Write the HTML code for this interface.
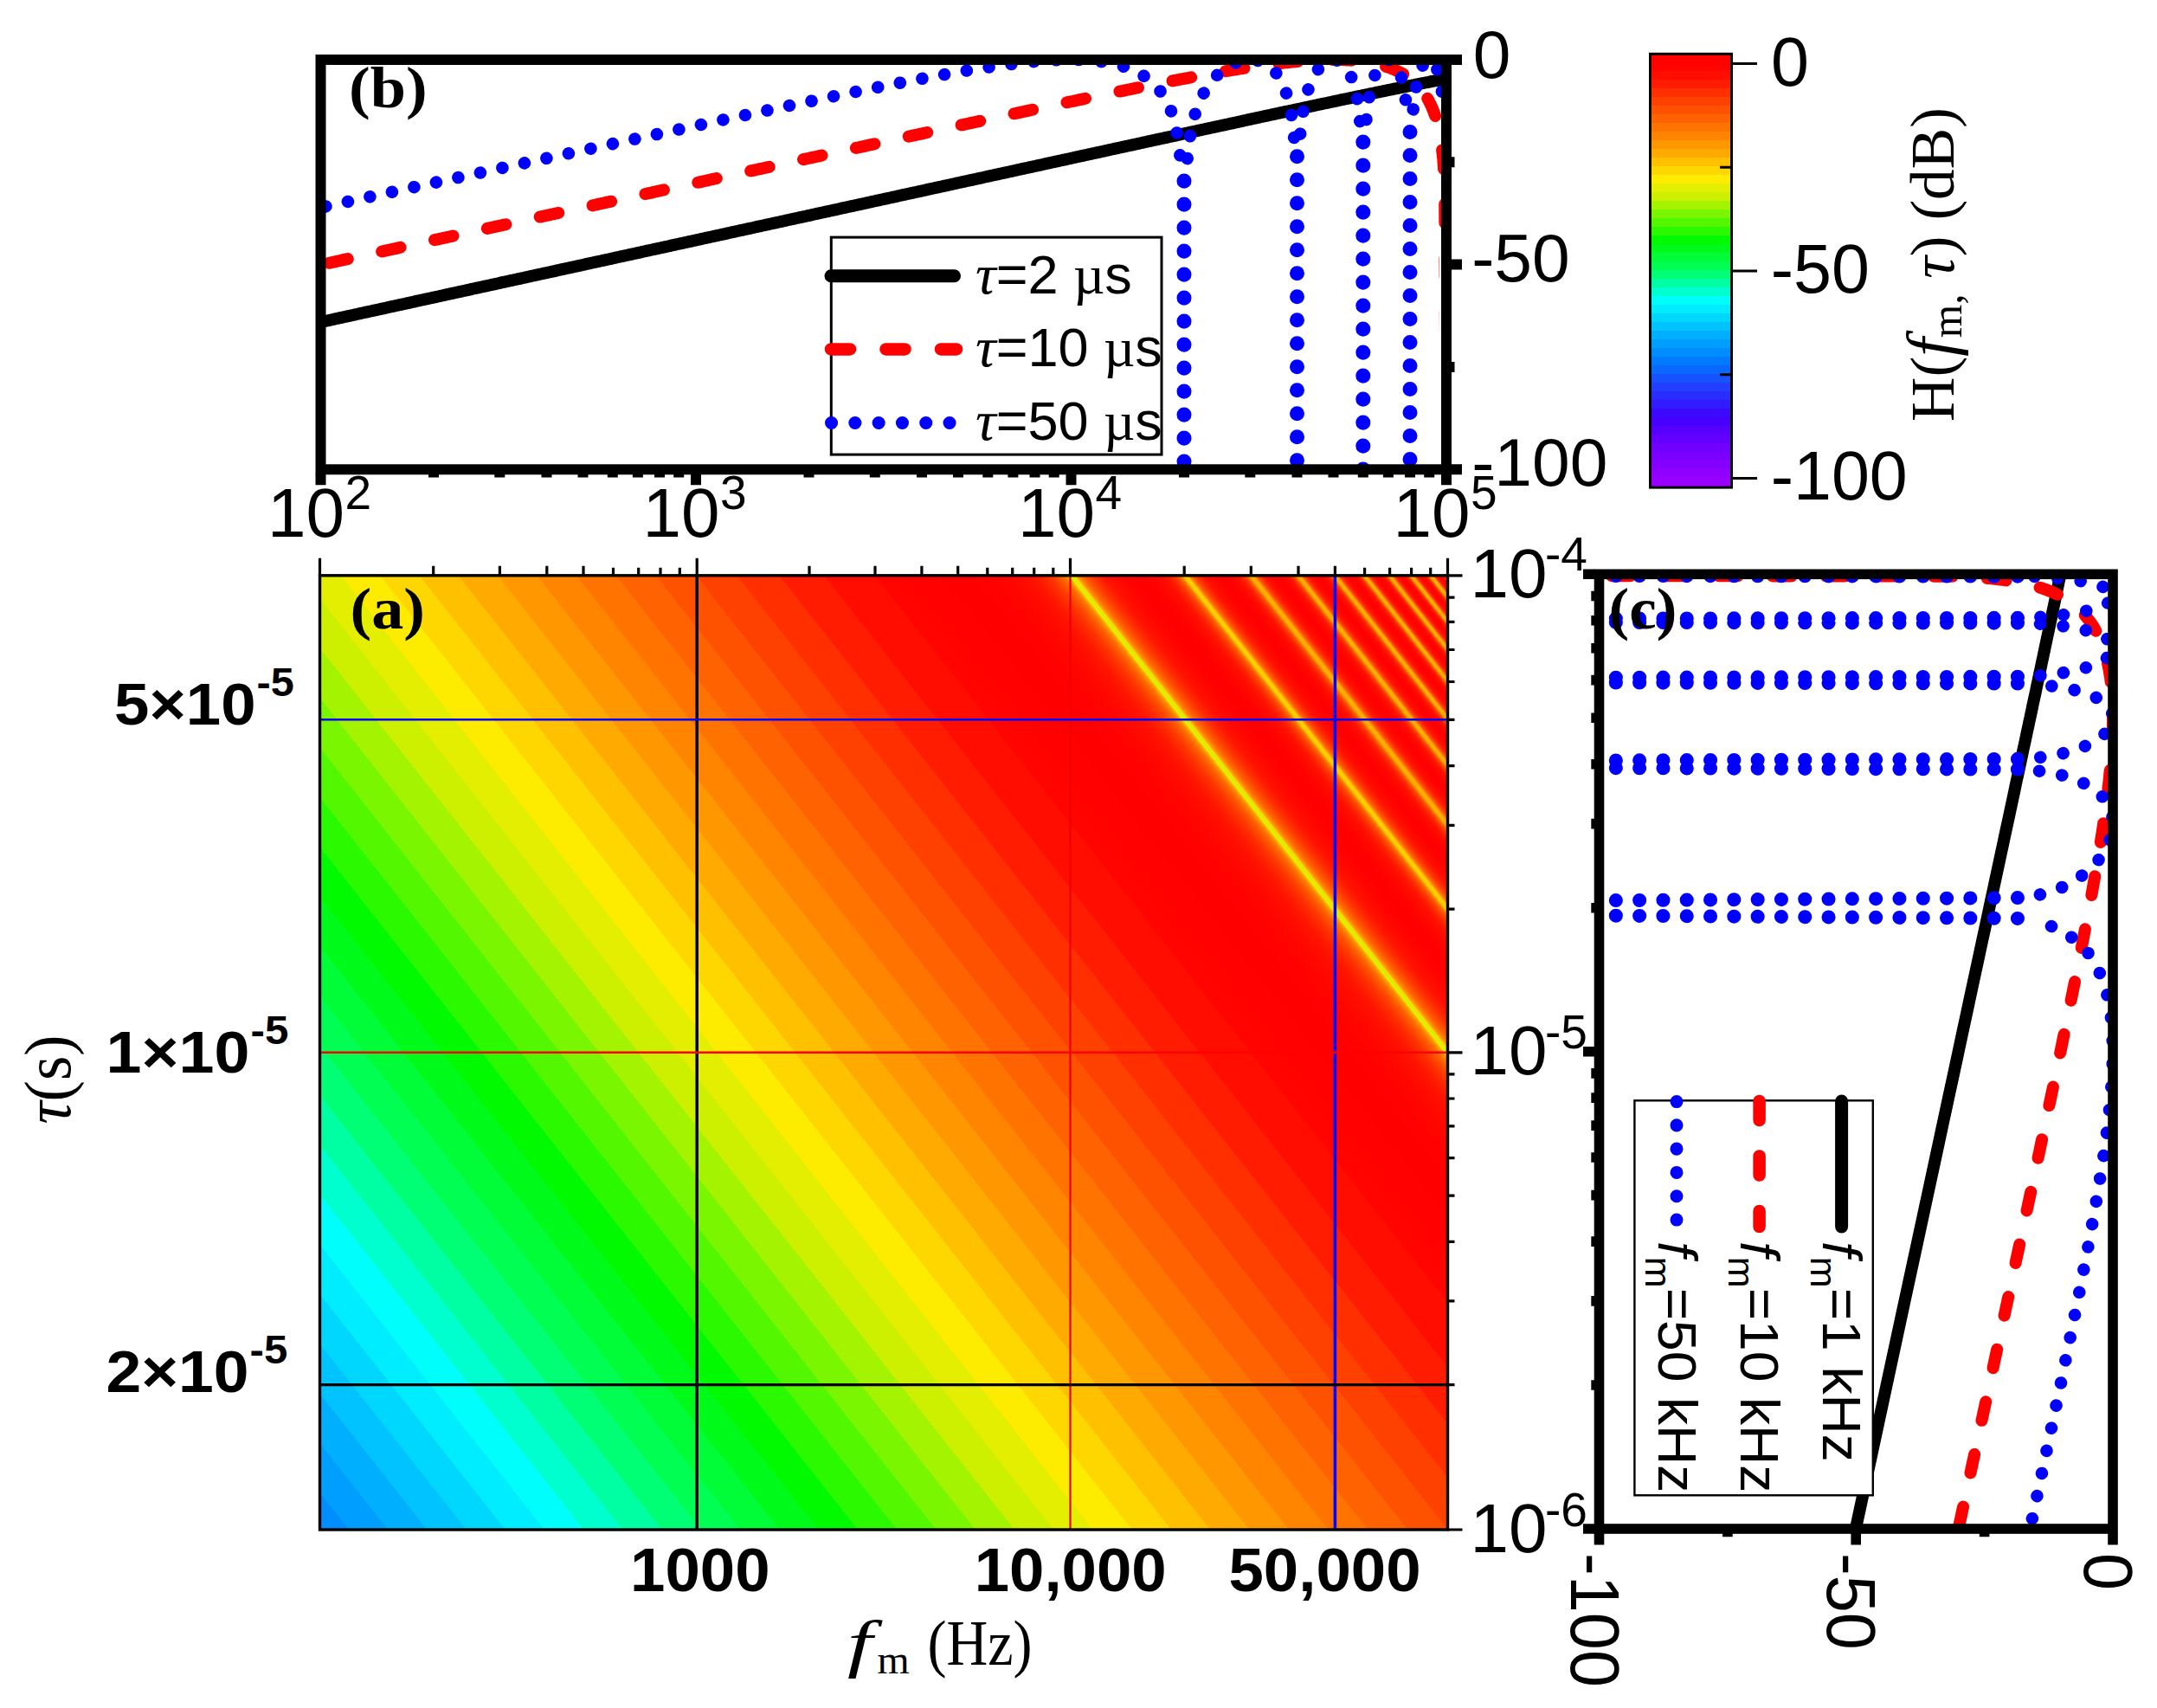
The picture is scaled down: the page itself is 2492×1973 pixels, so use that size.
<!DOCTYPE html>
<html><head><meta charset="utf-8"><title>figure</title>
<style>html,body{margin:0;padding:0;background:#fff}svg{display:block}</style></head>
<body>
<svg width="2492" height="1973" viewBox="0 0 2492 1973">
<rect width="2492" height="1973" fill="#fff"/>
<defs><linearGradient id="hm" gradientUnits="userSpaceOnUse" x1="369.50" y1="1767.00" x2="1709.10" y2="711.24"><stop offset="0.00000" stop-color="#008dff"/><stop offset="0.01537" stop-color="#008dff"/><stop offset="0.01537" stop-color="#009fff"/><stop offset="0.03620" stop-color="#009fff"/><stop offset="0.03620" stop-color="#00b0ff"/><stop offset="0.05704" stop-color="#00b0ff"/><stop offset="0.05704" stop-color="#00c3ff"/><stop offset="0.07787" stop-color="#00c3ff"/><stop offset="0.07787" stop-color="#00d7ff"/><stop offset="0.09870" stop-color="#00d7ff"/><stop offset="0.09870" stop-color="#00ecff"/><stop offset="0.11954" stop-color="#00ecff"/><stop offset="0.11954" stop-color="#00fffc"/><stop offset="0.14037" stop-color="#00fffc"/><stop offset="0.14037" stop-color="#00ffcf"/><stop offset="0.16120" stop-color="#00ffcf"/><stop offset="0.16120" stop-color="#00ffa2"/><stop offset="0.18204" stop-color="#00ffa2"/><stop offset="0.18204" stop-color="#00ff75"/><stop offset="0.20287" stop-color="#00ff75"/><stop offset="0.20287" stop-color="#00fe53"/><stop offset="0.22370" stop-color="#00fe53"/><stop offset="0.22370" stop-color="#00fd37"/><stop offset="0.24454" stop-color="#00fd37"/><stop offset="0.24454" stop-color="#00fb1b"/><stop offset="0.26537" stop-color="#00fb1b"/><stop offset="0.26537" stop-color="#02fa00"/><stop offset="0.28620" stop-color="#02fa00"/><stop offset="0.28620" stop-color="#2af900"/><stop offset="0.30704" stop-color="#2af900"/><stop offset="0.30704" stop-color="#52f700"/><stop offset="0.32787" stop-color="#52f700"/><stop offset="0.32787" stop-color="#79f600"/><stop offset="0.34871" stop-color="#79f600"/><stop offset="0.34871" stop-color="#a4f300"/><stop offset="0.36954" stop-color="#a4f300"/><stop offset="0.36954" stop-color="#ccf000"/><stop offset="0.39038" stop-color="#ccf000"/><stop offset="0.39038" stop-color="#e4ee00"/><stop offset="0.41122" stop-color="#e4ee00"/><stop offset="0.41122" stop-color="#fdec00"/><stop offset="0.43207" stop-color="#fdec00"/><stop offset="0.43207" stop-color="#ffd700"/><stop offset="0.45292" stop-color="#ffd700"/><stop offset="0.45292" stop-color="#ffc000"/><stop offset="0.47378" stop-color="#ffc000"/><stop offset="0.47378" stop-color="#ffaa00"/><stop offset="0.49466" stop-color="#ffaa00"/><stop offset="0.49466" stop-color="#ff9700"/><stop offset="0.51557" stop-color="#ff9700"/><stop offset="0.51557" stop-color="#ff8500"/><stop offset="0.53653" stop-color="#ff8500"/><stop offset="0.53653" stop-color="#ff7300"/><stop offset="0.55758" stop-color="#ff7300"/><stop offset="0.55758" stop-color="#ff6200"/><stop offset="0.57875" stop-color="#ff6200"/><stop offset="0.57875" stop-color="#ff5200"/><stop offset="0.60014" stop-color="#ff5200"/><stop offset="0.60014" stop-color="#ff4100"/><stop offset="0.62192" stop-color="#ff4100"/><stop offset="0.62192" stop-color="#ff2f00"/><stop offset="0.64438" stop-color="#ff2f00"/><stop offset="0.64438" stop-color="#ff1c00"/><stop offset="0.66818" stop-color="#ff1c00"/><stop offset="0.66818" stop-color="#ff0e00"/><stop offset="0.69524" stop-color="#ff0e00"/><stop offset="0.69524" stop-color="#ff0400"/><stop offset="0.72041" stop-color="#ff0200"/><stop offset="0.72393" stop-color="#ff0200"/><stop offset="0.72452" stop-color="#ff0100"/><stop offset="0.73097" stop-color="#ff0100"/><stop offset="0.73155" stop-color="#ff0000"/><stop offset="0.74738" stop-color="#ff0000"/><stop offset="0.74797" stop-color="#ff0100"/><stop offset="0.75266" stop-color="#ff0100"/><stop offset="0.75324" stop-color="#ff0200"/><stop offset="0.75618" stop-color="#ff0200"/><stop offset="0.75676" stop-color="#ff0300"/><stop offset="0.75911" stop-color="#ff0300"/><stop offset="0.75969" stop-color="#ff0400"/><stop offset="0.76145" stop-color="#ff0400"/><stop offset="0.76204" stop-color="#ff0500"/><stop offset="0.76321" stop-color="#ff0500"/><stop offset="0.76380" stop-color="#ff0600"/><stop offset="0.76497" stop-color="#ff0600"/><stop offset="0.76556" stop-color="#ff0700"/><stop offset="0.76614" stop-color="#ff0700"/><stop offset="0.76673" stop-color="#ff0800"/><stop offset="0.76790" stop-color="#ff0800"/><stop offset="0.76849" stop-color="#ff0900"/><stop offset="0.76907" stop-color="#ff0900"/><stop offset="0.76966" stop-color="#ff0a00"/><stop offset="0.77025" stop-color="#ff0a00"/><stop offset="0.77083" stop-color="#ff0b00"/><stop offset="0.77142" stop-color="#ff0b00"/><stop offset="0.77201" stop-color="#ff0c00"/><stop offset="0.77259" stop-color="#ff0c00"/><stop offset="0.77318" stop-color="#ff0d00"/><stop offset="0.77376" stop-color="#ff0e00"/><stop offset="0.77435" stop-color="#ff0e00"/><stop offset="0.77494" stop-color="#ff0f00"/><stop offset="0.77552" stop-color="#ff1000"/><stop offset="0.77611" stop-color="#ff1000"/><stop offset="0.77670" stop-color="#ff1100"/><stop offset="0.77728" stop-color="#ff1200"/><stop offset="0.77787" stop-color="#ff1300"/><stop offset="0.77846" stop-color="#ff1400"/><stop offset="0.77904" stop-color="#ff1500"/><stop offset="0.77963" stop-color="#ff1600"/><stop offset="0.78021" stop-color="#ff1800"/><stop offset="0.78080" stop-color="#ff1a00"/><stop offset="0.78139" stop-color="#ff1c00"/><stop offset="0.78197" stop-color="#ff1e00"/><stop offset="0.78256" stop-color="#ff2000"/><stop offset="0.78315" stop-color="#ff2200"/><stop offset="0.78373" stop-color="#ff2400"/><stop offset="0.78432" stop-color="#ff2600"/><stop offset="0.78490" stop-color="#ff2900"/><stop offset="0.78549" stop-color="#ff2b00"/><stop offset="0.78608" stop-color="#ff2e00"/><stop offset="0.78666" stop-color="#ff3000"/><stop offset="0.78725" stop-color="#ff3300"/><stop offset="0.78784" stop-color="#ff3600"/><stop offset="0.78842" stop-color="#ff3a00"/><stop offset="0.78901" stop-color="#ff3d00"/><stop offset="0.78959" stop-color="#ff4100"/><stop offset="0.79018" stop-color="#ff4500"/><stop offset="0.79077" stop-color="#ff4900"/><stop offset="0.79135" stop-color="#ff4d00"/><stop offset="0.79194" stop-color="#ff5200"/><stop offset="0.79253" stop-color="#ff5700"/><stop offset="0.79311" stop-color="#ff5c00"/><stop offset="0.79370" stop-color="#ff6200"/><stop offset="0.79429" stop-color="#ff6800"/><stop offset="0.79487" stop-color="#ff6f00"/><stop offset="0.79546" stop-color="#ff7800"/><stop offset="0.79604" stop-color="#ff8200"/><stop offset="0.79663" stop-color="#ff8e00"/><stop offset="0.79722" stop-color="#ff9c00"/><stop offset="0.79780" stop-color="#ffaf00"/><stop offset="0.79839" stop-color="#ffcc00"/><stop offset="0.79898" stop-color="#f4ed00"/><stop offset="0.79956" stop-color="#d8ef00"/><stop offset="0.80073" stop-color="#d8ef00"/><stop offset="0.80132" stop-color="#ffdd00"/><stop offset="0.80191" stop-color="#ffba00"/><stop offset="0.80249" stop-color="#ffa200"/><stop offset="0.80308" stop-color="#ff9200"/><stop offset="0.80367" stop-color="#ff8500"/><stop offset="0.80425" stop-color="#ff7900"/><stop offset="0.80484" stop-color="#ff7000"/><stop offset="0.80542" stop-color="#ff6700"/><stop offset="0.80601" stop-color="#ff6000"/><stop offset="0.80660" stop-color="#ff5a00"/><stop offset="0.80718" stop-color="#ff5400"/><stop offset="0.80777" stop-color="#ff4e00"/><stop offset="0.80836" stop-color="#ff4900"/><stop offset="0.80894" stop-color="#ff4400"/><stop offset="0.80953" stop-color="#ff3f00"/><stop offset="0.81012" stop-color="#ff3a00"/><stop offset="0.81070" stop-color="#ff3600"/><stop offset="0.81129" stop-color="#ff3200"/><stop offset="0.81187" stop-color="#ff2e00"/><stop offset="0.81246" stop-color="#ff2b00"/><stop offset="0.81305" stop-color="#ff2700"/><stop offset="0.81363" stop-color="#ff2400"/><stop offset="0.81422" stop-color="#ff2100"/><stop offset="0.81481" stop-color="#ff1e00"/><stop offset="0.81539" stop-color="#ff1b00"/><stop offset="0.81598" stop-color="#ff1900"/><stop offset="0.81656" stop-color="#ff1600"/><stop offset="0.81715" stop-color="#ff1400"/><stop offset="0.81774" stop-color="#ff1200"/><stop offset="0.81832" stop-color="#ff1100"/><stop offset="0.81891" stop-color="#ff1000"/><stop offset="0.81950" stop-color="#ff0f00"/><stop offset="0.82008" stop-color="#ff0e00"/><stop offset="0.82067" stop-color="#ff0d00"/><stop offset="0.82125" stop-color="#ff0c00"/><stop offset="0.82184" stop-color="#ff0b00"/><stop offset="0.82243" stop-color="#ff0a00"/><stop offset="0.82301" stop-color="#ff0900"/><stop offset="0.82360" stop-color="#ff0800"/><stop offset="0.82419" stop-color="#ff0700"/><stop offset="0.82477" stop-color="#ff0700"/><stop offset="0.82536" stop-color="#ff0600"/><stop offset="0.82595" stop-color="#ff0500"/><stop offset="0.82653" stop-color="#ff0500"/><stop offset="0.82712" stop-color="#ff0400"/><stop offset="0.82770" stop-color="#ff0300"/><stop offset="0.82829" stop-color="#ff0300"/><stop offset="0.82888" stop-color="#ff0200"/><stop offset="0.83005" stop-color="#ff0200"/><stop offset="0.83064" stop-color="#ff0100"/><stop offset="0.83181" stop-color="#ff0100"/><stop offset="0.83239" stop-color="#ff0000"/><stop offset="0.83708" stop-color="#ff0000"/><stop offset="0.83767" stop-color="#ff0100"/><stop offset="0.83943" stop-color="#ff0100"/><stop offset="0.84002" stop-color="#ff0200"/><stop offset="0.84060" stop-color="#ff0200"/><stop offset="0.84119" stop-color="#ff0300"/><stop offset="0.84178" stop-color="#ff0300"/><stop offset="0.84236" stop-color="#ff0400"/><stop offset="0.84295" stop-color="#ff0500"/><stop offset="0.84353" stop-color="#ff0600"/><stop offset="0.84412" stop-color="#ff0700"/><stop offset="0.84471" stop-color="#ff0800"/><stop offset="0.84529" stop-color="#ff0900"/><stop offset="0.84588" stop-color="#ff0a00"/><stop offset="0.84647" stop-color="#ff0b00"/><stop offset="0.84705" stop-color="#ff0c00"/><stop offset="0.84764" stop-color="#ff0e00"/><stop offset="0.84822" stop-color="#ff0f00"/><stop offset="0.84881" stop-color="#ff1100"/><stop offset="0.84940" stop-color="#ff1300"/><stop offset="0.84998" stop-color="#ff1500"/><stop offset="0.85057" stop-color="#ff1900"/><stop offset="0.85116" stop-color="#ff1d00"/><stop offset="0.85174" stop-color="#ff2200"/><stop offset="0.85233" stop-color="#ff2700"/><stop offset="0.85291" stop-color="#ff2c00"/><stop offset="0.85350" stop-color="#ff3200"/><stop offset="0.85409" stop-color="#ff3900"/><stop offset="0.85467" stop-color="#ff4000"/><stop offset="0.85526" stop-color="#ff4900"/><stop offset="0.85585" stop-color="#ff5200"/><stop offset="0.85643" stop-color="#ff5d00"/><stop offset="0.85702" stop-color="#ff6a00"/><stop offset="0.85761" stop-color="#ff7b00"/><stop offset="0.85819" stop-color="#ff9200"/><stop offset="0.85878" stop-color="#ffb900"/><stop offset="0.85936" stop-color="#ffce00"/><stop offset="0.86112" stop-color="#ffce00"/><stop offset="0.86171" stop-color="#ffb100"/><stop offset="0.86230" stop-color="#ff8e00"/><stop offset="0.86288" stop-color="#ff7700"/><stop offset="0.86347" stop-color="#ff6600"/><stop offset="0.86405" stop-color="#ff5900"/><stop offset="0.86464" stop-color="#ff4e00"/><stop offset="0.86523" stop-color="#ff4400"/><stop offset="0.86581" stop-color="#ff3b00"/><stop offset="0.86640" stop-color="#ff3300"/><stop offset="0.86699" stop-color="#ff2c00"/><stop offset="0.86757" stop-color="#ff2600"/><stop offset="0.86816" stop-color="#ff2000"/><stop offset="0.86874" stop-color="#ff1b00"/><stop offset="0.86933" stop-color="#ff1600"/><stop offset="0.86992" stop-color="#ff1300"/><stop offset="0.87050" stop-color="#ff1000"/><stop offset="0.87109" stop-color="#ff0e00"/><stop offset="0.87168" stop-color="#ff0c00"/><stop offset="0.87226" stop-color="#ff0b00"/><stop offset="0.87285" stop-color="#ff0900"/><stop offset="0.87344" stop-color="#ff0800"/><stop offset="0.87402" stop-color="#ff0600"/><stop offset="0.87461" stop-color="#ff0500"/><stop offset="0.87519" stop-color="#ff0400"/><stop offset="0.87578" stop-color="#ff0300"/><stop offset="0.87637" stop-color="#ff0200"/><stop offset="0.87695" stop-color="#ff0200"/><stop offset="0.87754" stop-color="#ff0100"/><stop offset="0.87813" stop-color="#ff0100"/><stop offset="0.87871" stop-color="#ff0000"/><stop offset="0.88047" stop-color="#ff0000"/><stop offset="0.88106" stop-color="#ff0100"/><stop offset="0.88164" stop-color="#ff0100"/><stop offset="0.88223" stop-color="#ff0200"/><stop offset="0.88282" stop-color="#ff0300"/><stop offset="0.88340" stop-color="#ff0400"/><stop offset="0.88399" stop-color="#ff0500"/><stop offset="0.88457" stop-color="#ff0600"/><stop offset="0.88516" stop-color="#ff0700"/><stop offset="0.88575" stop-color="#ff0900"/><stop offset="0.88633" stop-color="#ff0b00"/><stop offset="0.88692" stop-color="#ff0d00"/><stop offset="0.88751" stop-color="#ff1000"/><stop offset="0.88809" stop-color="#ff1200"/><stop offset="0.88868" stop-color="#ff1700"/><stop offset="0.88927" stop-color="#ff1d00"/><stop offset="0.88985" stop-color="#ff2400"/><stop offset="0.89044" stop-color="#ff2c00"/><stop offset="0.89102" stop-color="#ff3600"/><stop offset="0.89161" stop-color="#ff4100"/><stop offset="0.89220" stop-color="#ff4e00"/><stop offset="0.89278" stop-color="#ff5f00"/><stop offset="0.89337" stop-color="#ff7500"/><stop offset="0.89396" stop-color="#ff9700"/><stop offset="0.89454" stop-color="#ffad00"/><stop offset="0.89630" stop-color="#ffad00"/><stop offset="0.89689" stop-color="#ff9700"/><stop offset="0.89747" stop-color="#ff7400"/><stop offset="0.89806" stop-color="#ff5d00"/><stop offset="0.89865" stop-color="#ff4d00"/><stop offset="0.89923" stop-color="#ff3f00"/><stop offset="0.89982" stop-color="#ff3300"/><stop offset="0.90040" stop-color="#ff2900"/><stop offset="0.90099" stop-color="#ff2000"/><stop offset="0.90158" stop-color="#ff1900"/><stop offset="0.90216" stop-color="#ff1300"/><stop offset="0.90275" stop-color="#ff1000"/><stop offset="0.90334" stop-color="#ff0d00"/><stop offset="0.90392" stop-color="#ff0a00"/><stop offset="0.90451" stop-color="#ff0800"/><stop offset="0.90509" stop-color="#ff0600"/><stop offset="0.90568" stop-color="#ff0500"/><stop offset="0.90627" stop-color="#ff0300"/><stop offset="0.90685" stop-color="#ff0200"/><stop offset="0.90744" stop-color="#ff0100"/><stop offset="0.90803" stop-color="#ff0100"/><stop offset="0.90861" stop-color="#ff0000"/><stop offset="0.90920" stop-color="#ff0000"/><stop offset="0.90979" stop-color="#ff0100"/><stop offset="0.91037" stop-color="#ff0200"/><stop offset="0.91096" stop-color="#ff0300"/><stop offset="0.91154" stop-color="#ff0400"/><stop offset="0.91213" stop-color="#ff0600"/><stop offset="0.91272" stop-color="#ff0800"/><stop offset="0.91330" stop-color="#ff0a00"/><stop offset="0.91389" stop-color="#ff0d00"/><stop offset="0.91448" stop-color="#ff1000"/><stop offset="0.91506" stop-color="#ff1500"/><stop offset="0.91565" stop-color="#ff1d00"/><stop offset="0.91623" stop-color="#ff2700"/><stop offset="0.91682" stop-color="#ff3300"/><stop offset="0.91741" stop-color="#ff4200"/><stop offset="0.91799" stop-color="#ff5400"/><stop offset="0.91858" stop-color="#ff6d00"/><stop offset="0.91917" stop-color="#ff9a00"/><stop offset="0.91975" stop-color="#ffad00"/><stop offset="0.92092" stop-color="#ffad00"/><stop offset="0.92151" stop-color="#ffab00"/><stop offset="0.92210" stop-color="#ff7500"/><stop offset="0.92268" stop-color="#ff5800"/><stop offset="0.92327" stop-color="#ff4400"/><stop offset="0.92386" stop-color="#ff3400"/><stop offset="0.92444" stop-color="#ff2700"/><stop offset="0.92503" stop-color="#ff1c00"/><stop offset="0.92562" stop-color="#ff1300"/><stop offset="0.92620" stop-color="#ff0f00"/><stop offset="0.92679" stop-color="#ff0c00"/><stop offset="0.92737" stop-color="#ff0900"/><stop offset="0.92796" stop-color="#ff0600"/><stop offset="0.92855" stop-color="#ff0400"/><stop offset="0.92913" stop-color="#ff0200"/><stop offset="0.92972" stop-color="#ff0100"/><stop offset="0.93031" stop-color="#ff0000"/><stop offset="0.93089" stop-color="#ff0000"/><stop offset="0.93148" stop-color="#ff0100"/><stop offset="0.93206" stop-color="#ff0200"/><stop offset="0.93265" stop-color="#ff0400"/><stop offset="0.93324" stop-color="#ff0600"/><stop offset="0.93382" stop-color="#ff0900"/><stop offset="0.93441" stop-color="#ff0d00"/><stop offset="0.93500" stop-color="#ff1100"/><stop offset="0.93558" stop-color="#ff1800"/><stop offset="0.93617" stop-color="#ff2300"/><stop offset="0.93675" stop-color="#ff3200"/><stop offset="0.93734" stop-color="#ff4500"/><stop offset="0.93793" stop-color="#ff5f00"/><stop offset="0.93851" stop-color="#ff8b00"/><stop offset="0.93910" stop-color="#ffad00"/><stop offset="0.94027" stop-color="#ffad00"/><stop offset="0.94086" stop-color="#ffa600"/><stop offset="0.94145" stop-color="#ff6a00"/><stop offset="0.94203" stop-color="#ff4c00"/><stop offset="0.94262" stop-color="#ff3700"/><stop offset="0.94320" stop-color="#ff2600"/><stop offset="0.94379" stop-color="#ff1900"/><stop offset="0.94438" stop-color="#ff1100"/><stop offset="0.94496" stop-color="#ff0c00"/><stop offset="0.94555" stop-color="#ff0900"/><stop offset="0.94614" stop-color="#ff0600"/><stop offset="0.94672" stop-color="#ff0300"/><stop offset="0.94731" stop-color="#ff0200"/><stop offset="0.94789" stop-color="#ff0000"/><stop offset="0.94848" stop-color="#ff0100"/><stop offset="0.94907" stop-color="#ff0200"/><stop offset="0.94965" stop-color="#ff0400"/><stop offset="0.95024" stop-color="#ff0700"/><stop offset="0.95083" stop-color="#ff0b00"/><stop offset="0.95141" stop-color="#ff1000"/><stop offset="0.95200" stop-color="#ff1800"/><stop offset="0.95258" stop-color="#ff2600"/><stop offset="0.95317" stop-color="#ff3a00"/><stop offset="0.95376" stop-color="#ff5500"/><stop offset="0.95434" stop-color="#ff8100"/><stop offset="0.95493" stop-color="#ffad00"/><stop offset="0.95610" stop-color="#ffad00"/><stop offset="0.95669" stop-color="#ffa100"/><stop offset="0.95728" stop-color="#ff6200"/><stop offset="0.95786" stop-color="#ff4200"/><stop offset="0.95845" stop-color="#ff2b00"/><stop offset="0.95903" stop-color="#ff1b00"/><stop offset="0.95962" stop-color="#ff1100"/><stop offset="0.96021" stop-color="#ff0b00"/><stop offset="0.96079" stop-color="#ff0700"/><stop offset="0.96138" stop-color="#ff0400"/><stop offset="0.96197" stop-color="#ff0200"/><stop offset="0.96255" stop-color="#ff0100"/><stop offset="0.96314" stop-color="#ff0200"/><stop offset="0.96372" stop-color="#ff0400"/><stop offset="0.96431" stop-color="#ff0800"/><stop offset="0.96490" stop-color="#ff0c00"/><stop offset="0.96548" stop-color="#ff1300"/><stop offset="0.96607" stop-color="#ff2000"/><stop offset="0.96666" stop-color="#ff3500"/><stop offset="0.96724" stop-color="#ff5200"/><stop offset="0.96783" stop-color="#ff8800"/><stop offset="0.96841" stop-color="#ffad00"/><stop offset="0.96959" stop-color="#ffad00"/><stop offset="0.97017" stop-color="#ff8d00"/><stop offset="0.97076" stop-color="#ff5400"/><stop offset="0.97135" stop-color="#ff3500"/><stop offset="0.97193" stop-color="#ff1f00"/><stop offset="0.97252" stop-color="#ff1200"/><stop offset="0.97311" stop-color="#ff0b00"/><stop offset="0.97369" stop-color="#ff0700"/><stop offset="0.97428" stop-color="#ff0300"/><stop offset="0.97486" stop-color="#ff0100"/><stop offset="0.97545" stop-color="#ff0200"/><stop offset="0.97604" stop-color="#ff0500"/><stop offset="0.97662" stop-color="#ff0a00"/><stop offset="0.97721" stop-color="#ff1000"/><stop offset="0.97780" stop-color="#ff1c00"/><stop offset="0.97838" stop-color="#ff3300"/><stop offset="0.97897" stop-color="#ff5500"/><stop offset="0.97955" stop-color="#ff9d00"/><stop offset="0.98014" stop-color="#ffad00"/><stop offset="0.98131" stop-color="#ffad00"/><stop offset="0.98190" stop-color="#ff7800"/><stop offset="0.98249" stop-color="#ff4600"/><stop offset="0.98307" stop-color="#ff2800"/><stop offset="0.98366" stop-color="#ff1400"/><stop offset="0.98424" stop-color="#ff0c00"/><stop offset="0.98483" stop-color="#ff0700"/><stop offset="0.98542" stop-color="#ff0300"/><stop offset="0.98600" stop-color="#ff0200"/><stop offset="0.98659" stop-color="#ff0500"/><stop offset="0.98718" stop-color="#ff0a00"/><stop offset="0.98776" stop-color="#ff1100"/><stop offset="0.98835" stop-color="#ff2100"/><stop offset="0.98894" stop-color="#ff3e00"/><stop offset="0.98952" stop-color="#ff7000"/><stop offset="0.99011" stop-color="#ffad00"/><stop offset="0.99187" stop-color="#ffad00"/><stop offset="0.99245" stop-color="#ff5300"/><stop offset="0.99304" stop-color="#ff2e00"/><stop offset="0.99363" stop-color="#ff1600"/><stop offset="0.99421" stop-color="#ff0c00"/><stop offset="0.99480" stop-color="#ff0600"/><stop offset="0.99538" stop-color="#ff0200"/><stop offset="0.99597" stop-color="#ff0400"/><stop offset="0.99656" stop-color="#ff0900"/><stop offset="0.99714" stop-color="#ff1200"/><stop offset="0.99773" stop-color="#ff2600"/><stop offset="0.99832" stop-color="#ff4a00"/><stop offset="0.99890" stop-color="#ff9b00"/><stop offset="0.99949" stop-color="#ffad00"/><stop offset="1.00000" stop-color="#ffad00"/></linearGradient>
<clipPath id="cb"><path d="M370.5 69.0H1671.0V286.7H1663.0V542.3H370.5Z"/></clipPath>
<linearGradient id="cbg" gradientUnits="userSpaceOnUse" x1="0" y1="60.80" x2="0" y2="564.60"><stop offset="0" stop-color="#ff0000"/><stop offset="0.04283" stop-color="#ff0400"/><stop offset="0.04283" stop-color="#ff0e00"/><stop offset="0.06265" stop-color="#ff0e00"/><stop offset="0.06265" stop-color="#ff1c00"/><stop offset="0.08246" stop-color="#ff1c00"/><stop offset="0.08246" stop-color="#ff2f00"/><stop offset="0.10227" stop-color="#ff2f00"/><stop offset="0.10227" stop-color="#ff4100"/><stop offset="0.12208" stop-color="#ff4100"/><stop offset="0.12208" stop-color="#ff5200"/><stop offset="0.14189" stop-color="#ff5200"/><stop offset="0.14189" stop-color="#ff6200"/><stop offset="0.16170" stop-color="#ff6200"/><stop offset="0.16170" stop-color="#ff7300"/><stop offset="0.18152" stop-color="#ff7300"/><stop offset="0.18152" stop-color="#ff8500"/><stop offset="0.20133" stop-color="#ff8500"/><stop offset="0.20133" stop-color="#ff9700"/><stop offset="0.22114" stop-color="#ff9700"/><stop offset="0.22114" stop-color="#ffaa00"/><stop offset="0.24095" stop-color="#ffaa00"/><stop offset="0.24095" stop-color="#ffc000"/><stop offset="0.26076" stop-color="#ffc000"/><stop offset="0.26076" stop-color="#ffd700"/><stop offset="0.28058" stop-color="#ffd700"/><stop offset="0.28058" stop-color="#fdec00"/><stop offset="0.30039" stop-color="#fdec00"/><stop offset="0.30039" stop-color="#e4ee00"/><stop offset="0.32020" stop-color="#e4ee00"/><stop offset="0.32020" stop-color="#ccf000"/><stop offset="0.34001" stop-color="#ccf000"/><stop offset="0.34001" stop-color="#a4f300"/><stop offset="0.35982" stop-color="#a4f300"/><stop offset="0.35982" stop-color="#79f600"/><stop offset="0.37964" stop-color="#79f600"/><stop offset="0.37964" stop-color="#52f700"/><stop offset="0.39945" stop-color="#52f700"/><stop offset="0.39945" stop-color="#2af900"/><stop offset="0.41926" stop-color="#2af900"/><stop offset="0.41926" stop-color="#02fa00"/><stop offset="0.43907" stop-color="#02fa00"/><stop offset="0.43907" stop-color="#00fb1b"/><stop offset="0.45888" stop-color="#00fb1b"/><stop offset="0.45888" stop-color="#00fd37"/><stop offset="0.47870" stop-color="#00fd37"/><stop offset="0.47870" stop-color="#00fe53"/><stop offset="0.49851" stop-color="#00fe53"/><stop offset="0.49851" stop-color="#00ff75"/><stop offset="0.51832" stop-color="#00ff75"/><stop offset="0.51832" stop-color="#00ffa2"/><stop offset="0.53813" stop-color="#00ffa2"/><stop offset="0.53813" stop-color="#00ffcf"/><stop offset="0.55794" stop-color="#00ffcf"/><stop offset="0.55794" stop-color="#00fffc"/><stop offset="0.57776" stop-color="#00fffc"/><stop offset="0.57776" stop-color="#00ecff"/><stop offset="0.59757" stop-color="#00ecff"/><stop offset="0.59757" stop-color="#00d7ff"/><stop offset="0.61738" stop-color="#00d7ff"/><stop offset="0.61738" stop-color="#00c3ff"/><stop offset="0.63719" stop-color="#00c3ff"/><stop offset="0.63719" stop-color="#00b0ff"/><stop offset="0.65700" stop-color="#00b0ff"/><stop offset="0.65700" stop-color="#009fff"/><stop offset="0.67681" stop-color="#009fff"/><stop offset="0.67681" stop-color="#008dff"/><stop offset="0.69663" stop-color="#008dff"/><stop offset="0.69663" stop-color="#007bff"/><stop offset="0.71644" stop-color="#007bff"/><stop offset="0.71644" stop-color="#0a67ff"/><stop offset="0.73625" stop-color="#0a67ff"/><stop offset="0.73625" stop-color="#1752ff"/><stop offset="0.75606" stop-color="#1752ff"/><stop offset="0.75606" stop-color="#223eff"/><stop offset="0.77587" stop-color="#223eff"/><stop offset="0.77587" stop-color="#2a2dff"/><stop offset="0.79569" stop-color="#2a2dff"/><stop offset="0.79569" stop-color="#331bff"/><stop offset="0.81550" stop-color="#331bff"/><stop offset="0.81550" stop-color="#3c09ff"/><stop offset="0.83531" stop-color="#3c09ff"/><stop offset="0.83531" stop-color="#4700ff"/><stop offset="0.85512" stop-color="#4700ff"/><stop offset="0.85512" stop-color="#5600ff"/><stop offset="0.87493" stop-color="#5600ff"/><stop offset="0.87493" stop-color="#6400ff"/><stop offset="0.89475" stop-color="#6400ff"/><stop offset="0.89475" stop-color="#7100ff"/><stop offset="0.91456" stop-color="#7100ff"/><stop offset="0.91456" stop-color="#7b00ff"/><stop offset="0.93437" stop-color="#7b00ff"/><stop offset="0.93437" stop-color="#8600ff"/><stop offset="0.95418" stop-color="#8600ff"/><stop offset="0.95418" stop-color="#9000ff"/><stop offset="0.97399" stop-color="#9000ff"/><stop offset="0.97399" stop-color="#9800ff"/><stop offset="0.99381" stop-color="#9800ff"/><stop offset="0.99381" stop-color="#9d00ff"/><stop offset="1" stop-color="#9d00ff"/></linearGradient>
<clipPath id="cc"><rect x="1847.5" y="663.3" width="593.5" height="1102.7"/></clipPath></defs>
<rect x="369.5" y="664.8" width="1303.0" height="1102.2" fill="url(#hm)"/>
<line x1="805.2" y1="664.8" x2="805.2" y2="1767.0" stroke="#000" stroke-width="3.5"/>
<line x1="1236.5" y1="664.8" x2="1236.5" y2="1767.0" stroke="#f00000" stroke-width="2.2"/>
<line x1="1542.4" y1="664.8" x2="1542.4" y2="1767.0" stroke="#0000ff" stroke-width="3.5"/>
<line x1="369.5" y1="831.3" x2="1672.5" y2="831.3" stroke="#0000ff" stroke-width="2.6"/>
<line x1="369.5" y1="1215.8" x2="1672.5" y2="1215.8" stroke="#ff0000" stroke-width="2.4"/>
<line x1="369.5" y1="1599.6" x2="1672.5" y2="1599.6" stroke="#000" stroke-width="3.2"/>
<rect x="369.5" y="664.8" width="1303.0" height="1102.2" fill="none" stroke="#000" stroke-width="3.4"/>
<path d="M369.5 664.8V644.8M500.7 664.8V653.8M577.4 664.8V653.8M631.8 664.8V653.8M674.0 664.8V653.8M708.5 664.8V655.8M737.7 664.8V655.8M763.0 664.8V655.8M785.3 664.8V655.8M805.2 664.8V644.8M935.0 664.8V653.8M1011.0 664.8V653.8M1064.9 664.8V653.8M1106.7 664.8V653.8M1140.8 664.8V655.8M1169.7 664.8V655.8M1194.7 664.8V655.8M1216.8 664.8V655.8M1236.5 664.8V644.8M1368.2 664.8V653.8M1445.3 664.8V653.8M1500.0 664.8V653.8M1542.4 664.8V653.8M1576.6 664.8V655.8M1605.6 664.8V655.8M1630.6 664.8V655.8M1652.7 664.8V655.8M1672.5 664.8V644.8M1672.5 664.8H1689.5M1672.5 1050.2H1680.5M1672.5 953.3H1680.5M1672.5 884.6H1680.5M1672.5 831.3H1680.5M1672.5 787.5H1680.5M1672.5 750.5H1680.5M1672.5 718.4H1680.5M1672.5 690.1H1680.5M1672.5 1215.8H1689.5M1672.5 1599.6H1680.5M1672.5 1502.9H1680.5M1672.5 1434.3H1680.5M1672.5 1381.1H1680.5M1672.5 1337.6H1680.5M1672.5 1300.9H1680.5M1672.5 1269.0H1680.5M1672.5 1240.9H1680.5M1672.5 1767.0H1689.5" stroke="#000" stroke-width="3.2" fill="none"/>
<g clip-path="url(#cb)" fill="none">
<path d="M370.5 372.1L372.4 371.7L374.2 371.3L376.1 370.9L377.9 370.5L379.8 370.1L381.6 369.7L383.5 369.2L385.4 368.8L387.2 368.4L389.1 368.0L390.9 367.6L392.8 367.2L394.7 366.8L396.5 366.4L398.4 366.0L400.2 365.6L402.1 365.2L403.9 364.8L405.8 364.4L407.7 364.0L409.5 363.6L411.4 363.2L413.2 362.8L415.1 362.3L416.9 361.9L418.8 361.5L420.7 361.1L422.5 360.7L424.4 360.3L426.2 359.9L428.1 359.5L430.0 359.1L431.8 358.7L433.7 358.3L435.5 357.9L437.4 357.5L439.2 357.1L441.1 356.7L443.0 356.3L444.8 355.9L446.7 355.5L448.5 355.0L450.4 354.6L452.2 354.2L454.1 353.8L456.0 353.4L457.8 353.0L459.7 352.6L461.5 352.2L463.4 351.8L465.3 351.4L467.1 351.0L469.0 350.6L470.8 350.2L472.7 349.8L474.5 349.4L476.4 349.0L478.3 348.6L480.1 348.1L482.0 347.7L483.8 347.3L485.7 346.9L487.5 346.5L489.4 346.1L491.3 345.7L493.1 345.3L495.0 344.9L496.8 344.5L498.7 344.1L500.5 343.7L502.4 343.3L504.3 342.9L506.1 342.5L508.0 342.1L509.8 341.7L511.7 341.3L513.6 340.8L515.4 340.4L517.3 340.0L519.1 339.6L521.0 339.2L522.8 338.8L524.7 338.4L526.6 338.0L528.4 337.6L530.3 337.2L532.1 336.8L534.0 336.4L535.8 336.0L537.7 335.6L539.6 335.2L541.4 334.8L543.3 334.4L545.1 333.9L547.0 333.5L548.9 333.1L550.7 332.7L552.6 332.3L554.4 331.9L556.3 331.5L558.1 331.1L560.0 330.7L561.9 330.3L563.7 329.9L565.6 329.5L567.4 329.1L569.3 328.7L571.1 328.3L573.0 327.9L574.9 327.5L576.7 327.1L578.6 326.6L580.4 326.2L582.3 325.8L584.2 325.4L586.0 325.0L587.9 324.6L589.7 324.2L591.6 323.8L593.4 323.4L595.3 323.0L597.2 322.6L599.0 322.2L600.9 321.8L602.7 321.4L604.6 321.0L606.4 320.6L608.3 320.2L610.2 319.8L612.0 319.3L613.9 318.9L615.7 318.5L617.6 318.1L619.5 317.7L621.3 317.3L623.2 316.9L625.0 316.5L626.9 316.1L628.7 315.7L630.6 315.3L632.5 314.9L634.3 314.5L636.2 314.1L638.0 313.7L639.9 313.3L641.7 312.9L643.6 312.4L645.5 312.0L647.3 311.6L649.2 311.2L651.0 310.8L652.9 310.4L654.8 310.0L656.6 309.6L658.5 309.2L660.3 308.8L662.2 308.4L664.0 308.0L665.9 307.6L667.8 307.2L669.6 306.8L671.5 306.4L673.3 306.0L675.2 305.6L677.0 305.1L678.9 304.7L680.8 304.3L682.6 303.9L684.5 303.5L686.3 303.1L688.2 302.7L690.1 302.3L691.9 301.9L693.8 301.5L695.6 301.1L697.5 300.7L699.3 300.3L701.2 299.9L703.1 299.5L704.9 299.1L706.8 298.7L708.6 298.2L710.5 297.8L712.3 297.4L714.2 297.0L716.1 296.6L717.9 296.2L719.8 295.8L721.6 295.4L723.5 295.0L725.4 294.6L727.2 294.2L729.1 293.8L730.9 293.4L732.8 293.0L734.6 292.6L736.5 292.2L738.4 291.8L740.2 291.4L742.1 290.9L743.9 290.5L745.8 290.1L747.6 289.7L749.5 289.3L751.4 288.9L753.2 288.5L755.1 288.1L756.9 287.7L758.8 287.3L760.6 286.9L762.5 286.5L764.4 286.1L766.2 285.7L768.1 285.3L769.9 284.9L771.8 284.5L773.7 284.1L775.5 283.6L777.4 283.2L779.2 282.8L781.1 282.4L782.9 282.0L784.8 281.6L786.7 281.2L788.5 280.8L790.4 280.4L792.2 280.0L794.1 279.6L795.9 279.2L797.8 278.8L799.7 278.4L801.5 278.0L803.4 277.6L805.2 277.2L807.1 276.7L809.0 276.3L810.8 275.9L812.7 275.5L814.5 275.1L816.4 274.7L818.2 274.3L820.1 273.9L822.0 273.5L823.8 273.1L825.7 272.7L827.5 272.3L829.4 271.9L831.2 271.5L833.1 271.1L835.0 270.7L836.8 270.3L838.7 269.9L840.5 269.4L842.4 269.0L844.3 268.6L846.1 268.2L848.0 267.8L849.8 267.4L851.7 267.0L853.5 266.6L855.4 266.2L857.3 265.8L859.1 265.4L861.0 265.0L862.8 264.6L864.7 264.2L866.5 263.8L868.4 263.4L870.3 263.0L872.1 262.5L874.0 262.1L875.8 261.7L877.7 261.3L879.6 260.9L881.4 260.5L883.3 260.1L885.1 259.7L887.0 259.3L888.8 258.9L890.7 258.5L892.6 258.1L894.4 257.7L896.3 257.3L898.1 256.9L900.0 256.5L901.8 256.1L903.7 255.7L905.6 255.2L907.4 254.8L909.3 254.4L911.1 254.0L913.0 253.6L914.9 253.2L916.7 252.8L918.6 252.4L920.4 252.0L922.3 251.6L924.1 251.2L926.0 250.8L927.9 250.4L929.7 250.0L931.6 249.6L933.4 249.2L935.3 248.8L937.1 248.4L939.0 247.9L940.9 247.5L942.7 247.1L944.6 246.7L946.4 246.3L948.3 245.9L950.2 245.5L952.0 245.1L953.9 244.7L955.7 244.3L957.6 243.9L959.4 243.5L961.3 243.1L963.2 242.7L965.0 242.3L966.9 241.9L968.7 241.5L970.6 241.0L972.4 240.6L974.3 240.2L976.2 239.8L978.0 239.4L979.9 239.0L981.7 238.6L983.6 238.2L985.5 237.8L987.3 237.4L989.2 237.0L991.0 236.6L992.9 236.2L994.7 235.8L996.6 235.4L998.5 235.0L1000.3 234.6L1002.2 234.2L1004.0 233.7L1005.9 233.3L1007.7 232.9L1009.6 232.5L1011.5 232.1L1013.3 231.7L1015.2 231.3L1017.0 230.9L1018.9 230.5L1020.8 230.1L1022.6 229.7L1024.5 229.3L1026.3 228.9L1028.2 228.5L1030.0 228.1L1031.9 227.7L1033.8 227.3L1035.6 226.9L1037.5 226.4L1039.3 226.0L1041.2 225.6L1043.0 225.2L1044.9 224.8L1046.8 224.4L1048.6 224.0L1050.5 223.6L1052.3 223.2L1054.2 222.8L1056.0 222.4L1057.9 222.0L1059.8 221.6L1061.6 221.2L1063.5 220.8L1065.3 220.4L1067.2 220.0L1069.1 219.6L1070.9 219.1L1072.8 218.7L1074.6 218.3L1076.5 217.9L1078.3 217.5L1080.2 217.1L1082.1 216.7L1083.9 216.3L1085.8 215.9L1087.6 215.5L1089.5 215.1L1091.3 214.7L1093.2 214.3L1095.1 213.9L1096.9 213.5L1098.8 213.1L1100.6 212.7L1102.5 212.3L1104.4 211.8L1106.2 211.4L1108.1 211.0L1109.9 210.6L1111.8 210.2L1113.6 209.8L1115.5 209.4L1117.4 209.0L1119.2 208.6L1121.1 208.2L1122.9 207.8L1124.8 207.4L1126.6 207.0L1128.5 206.6L1130.4 206.2L1132.2 205.8L1134.1 205.4L1135.9 205.0L1137.8 204.5L1139.7 204.1L1141.5 203.7L1143.4 203.3L1145.2 202.9L1147.1 202.5L1148.9 202.1L1150.8 201.7L1152.7 201.3L1154.5 200.9L1156.4 200.5L1158.2 200.1L1160.1 199.7L1161.9 199.3L1163.8 198.9L1165.7 198.5L1167.5 198.1L1169.4 197.7L1171.2 197.2L1173.1 196.8L1175.0 196.4L1176.8 196.0L1178.7 195.6L1180.5 195.2L1182.4 194.8L1184.2 194.4L1186.1 194.0L1188.0 193.6L1189.8 193.2L1191.7 192.8L1193.5 192.4L1195.4 192.0L1197.2 191.6L1199.1 191.2L1201.0 190.8L1202.8 190.4L1204.7 190.0L1206.5 189.5L1208.4 189.1L1210.3 188.7L1212.1 188.3L1214.0 187.9L1215.8 187.5L1217.7 187.1L1219.5 186.7L1221.4 186.3L1223.3 185.9L1225.1 185.5L1227.0 185.1L1228.8 184.7L1230.7 184.3L1232.5 183.9L1234.4 183.5L1236.3 183.1L1238.1 182.7L1240.0 182.3L1241.8 181.8L1243.7 181.4L1245.6 181.0L1247.4 180.6L1249.3 180.2L1251.1 179.8L1253.0 179.4L1254.8 179.0L1256.7 178.6L1258.6 178.2L1260.4 177.8L1262.3 177.4L1264.1 177.0L1266.0 176.6L1267.8 176.2L1269.7 175.8L1271.6 175.4L1273.4 175.0L1275.3 174.6L1277.1 174.2L1279.0 173.7L1280.8 173.3L1282.7 172.9L1284.6 172.5L1286.4 172.1L1288.3 171.7L1290.1 171.3L1292.0 170.9L1293.9 170.5L1295.7 170.1L1297.6 169.7L1299.4 169.3L1301.3 168.9L1303.1 168.5L1305.0 168.1L1306.9 167.7L1308.7 167.3L1310.6 166.9L1312.4 166.5L1314.3 166.1L1316.1 165.7L1318.0 165.2L1319.9 164.8L1321.7 164.4L1323.6 164.0L1325.4 163.6L1327.3 163.2L1329.2 162.8L1331.0 162.4L1332.9 162.0L1334.7 161.6L1336.6 161.2L1338.4 160.8L1340.3 160.4L1342.2 160.0L1344.0 159.6L1345.9 159.2L1347.7 158.8L1349.6 158.4L1351.4 158.0L1353.3 157.6L1355.2 157.2L1357.0 156.8L1358.9 156.4L1360.7 156.0L1362.6 155.6L1364.5 155.1L1366.3 154.7L1368.2 154.3L1370.0 153.9L1371.9 153.5L1373.7 153.1L1375.6 152.7L1377.5 152.3L1379.3 151.9L1381.2 151.5L1383.0 151.1L1384.9 150.7L1386.7 150.3L1388.6 149.9L1390.5 149.5L1392.3 149.1L1394.2 148.7L1396.0 148.3L1397.9 147.9L1399.8 147.5L1401.6 147.1L1403.5 146.7L1405.3 146.3L1407.2 145.9L1409.0 145.5L1410.9 145.1L1412.8 144.7L1414.6 144.3L1416.5 143.9L1418.3 143.5L1420.2 143.1L1422.0 142.7L1423.9 142.3L1425.8 141.9L1427.6 141.5L1429.5 141.1L1431.3 140.7L1433.2 140.2L1435.1 139.8L1436.9 139.4L1438.8 139.0L1440.6 138.6L1442.5 138.2L1444.3 137.8L1446.2 137.4L1448.1 137.0L1449.9 136.6L1451.8 136.2L1453.6 135.8L1455.5 135.4L1457.3 135.0L1459.2 134.6L1461.1 134.2L1462.9 133.8L1464.8 133.4L1466.6 133.0L1468.5 132.6L1470.4 132.2L1472.2 131.8L1474.1 131.4L1475.9 131.0L1477.8 130.6L1479.6 130.2L1481.5 129.8L1483.4 129.4L1485.2 129.0L1487.1 128.7L1488.9 128.3L1490.8 127.9L1492.6 127.5L1494.5 127.1L1496.4 126.7L1498.2 126.3L1500.1 125.9L1501.9 125.5L1503.8 125.1L1505.7 124.7L1507.5 124.3L1509.4 123.9L1511.2 123.5L1513.1 123.1L1514.9 122.7L1516.8 122.3L1518.7 121.9L1520.5 121.5L1522.4 121.1L1524.2 120.7L1526.1 120.3L1527.9 119.9L1529.8 119.5L1531.7 119.1L1533.5 118.8L1535.4 118.4L1537.2 118.0L1539.1 117.6L1541.0 117.2L1542.8 116.8L1544.7 116.4L1546.5 116.0L1548.4 115.6L1550.2 115.2L1552.1 114.8L1554.0 114.4L1555.8 114.1L1557.7 113.7L1559.5 113.3L1561.4 112.9L1563.2 112.5L1565.1 112.1L1567.0 111.7L1568.8 111.3L1570.7 110.9L1572.5 110.6L1574.4 110.2L1576.2 109.8L1578.1 109.4L1580.0 109.0L1581.8 108.6L1583.7 108.2L1585.5 107.9L1587.4 107.5L1589.3 107.1L1591.1 106.7L1593.0 106.3L1594.8 105.9L1596.7 105.6L1598.5 105.2L1600.4 104.8L1602.3 104.4L1604.1 104.0L1606.0 103.7L1607.8 103.3L1609.7 102.9L1611.5 102.5L1613.4 102.2L1615.3 101.8L1617.1 101.4L1619.0 101.0L1620.8 100.7L1622.7 100.3L1624.6 99.9L1626.4 99.5L1628.3 99.2L1630.1 98.8L1632.0 98.4L1633.8 98.1L1635.7 97.7L1637.6 97.3L1639.4 97.0L1641.3 96.6L1643.1 96.2L1645.0 95.9L1646.8 95.5L1648.7 95.1L1650.6 94.8L1652.4 94.4L1654.3 94.0L1656.1 93.7L1658.0 93.3L1659.9 93.0L1661.7 92.6L1663.6 92.3L1665.4 91.9L1667.3 91.5L1669.1 91.2L1671.0 90.8" stroke="#000" stroke-width="14"/>
<path d="M370.5 305.9L372.4 305.5L374.2 305.1L376.1 304.7L377.9 304.3L379.8 303.9L381.6 303.5L383.5 303.1L385.4 302.7L387.2 302.3L389.1 301.9L390.9 301.5L392.8 301.1L394.7 300.6L396.5 300.2L398.4 299.8L400.2 299.4L402.1 299.0L403.9 298.6L405.8 298.2L407.7 297.8L409.5 297.4L411.4 297.0L413.2 296.6L415.1 296.2L416.9 295.8L418.8 295.4L420.7 295.0L422.5 294.6L424.4 294.2L426.2 293.7L428.1 293.3L430.0 292.9L431.8 292.5L433.7 292.1L435.5 291.7L437.4 291.3L439.2 290.9L441.1 290.5L443.0 290.1L444.8 289.7L446.7 289.3L448.5 288.9L450.4 288.5L452.2 288.1L454.1 287.7L456.0 287.3L457.8 286.9L459.7 286.4L461.5 286.0L463.4 285.6L465.3 285.2L467.1 284.8L469.0 284.4L470.8 284.0L472.7 283.6L474.5 283.2L476.4 282.8L478.3 282.4L480.1 282.0L482.0 281.6L483.8 281.2L485.7 280.8L487.5 280.4L489.4 280.0L491.3 279.6L493.1 279.1L495.0 278.7L496.8 278.3L498.7 277.9L500.5 277.5L502.4 277.1L504.3 276.7L506.1 276.3L508.0 275.9L509.8 275.5L511.7 275.1L513.6 274.7L515.4 274.3L517.3 273.9L519.1 273.5L521.0 273.1L522.8 272.7L524.7 272.2L526.6 271.8L528.4 271.4L530.3 271.0L532.1 270.6L534.0 270.2L535.8 269.8L537.7 269.4L539.6 269.0L541.4 268.6L543.3 268.2L545.1 267.8L547.0 267.4L548.9 267.0L550.7 266.6L552.6 266.2L554.4 265.8L556.3 265.4L558.1 264.9L560.0 264.5L561.9 264.1L563.7 263.7L565.6 263.3L567.4 262.9L569.3 262.5L571.1 262.1L573.0 261.7L574.9 261.3L576.7 260.9L578.6 260.5L580.4 260.1L582.3 259.7L584.2 259.3L586.0 258.9L587.9 258.5L589.7 258.0L591.6 257.6L593.4 257.2L595.3 256.8L597.2 256.4L599.0 256.0L600.9 255.6L602.7 255.2L604.6 254.8L606.4 254.4L608.3 254.0L610.2 253.6L612.0 253.2L613.9 252.8L615.7 252.4L617.6 252.0L619.5 251.6L621.3 251.2L623.2 250.7L625.0 250.3L626.9 249.9L628.7 249.5L630.6 249.1L632.5 248.7L634.3 248.3L636.2 247.9L638.0 247.5L639.9 247.1L641.7 246.7L643.6 246.3L645.5 245.9L647.3 245.5L649.2 245.1L651.0 244.7L652.9 244.3L654.8 243.9L656.6 243.4L658.5 243.0L660.3 242.6L662.2 242.2L664.0 241.8L665.9 241.4L667.8 241.0L669.6 240.6L671.5 240.2L673.3 239.8L675.2 239.4L677.0 239.0L678.9 238.6L680.8 238.2L682.6 237.8L684.5 237.4L686.3 237.0L688.2 236.5L690.1 236.1L691.9 235.7L693.8 235.3L695.6 234.9L697.5 234.5L699.3 234.1L701.2 233.7L703.1 233.3L704.9 232.9L706.8 232.5L708.6 232.1L710.5 231.7L712.3 231.3L714.2 230.9L716.1 230.5L717.9 230.1L719.8 229.7L721.6 229.2L723.5 228.8L725.4 228.4L727.2 228.0L729.1 227.6L730.9 227.2L732.8 226.8L734.6 226.4L736.5 226.0L738.4 225.6L740.2 225.2L742.1 224.8L743.9 224.4L745.8 224.0L747.6 223.6L749.5 223.2L751.4 222.8L753.2 222.4L755.1 221.9L756.9 221.5L758.8 221.1L760.6 220.7L762.5 220.3L764.4 219.9L766.2 219.5L768.1 219.1L769.9 218.7L771.8 218.3L773.7 217.9L775.5 217.5L777.4 217.1L779.2 216.7L781.1 216.3L782.9 215.9L784.8 215.5L786.7 215.1L788.5 214.6L790.4 214.2L792.2 213.8L794.1 213.4L795.9 213.0L797.8 212.6L799.7 212.2L801.5 211.8L803.4 211.4L805.2 211.0L807.1 210.6L809.0 210.2L810.8 209.8L812.7 209.4L814.5 209.0L816.4 208.6L818.2 208.2L820.1 207.8L822.0 207.3L823.8 206.9L825.7 206.5L827.5 206.1L829.4 205.7L831.2 205.3L833.1 204.9L835.0 204.5L836.8 204.1L838.7 203.7L840.5 203.3L842.4 202.9L844.3 202.5L846.1 202.1L848.0 201.7L849.8 201.3L851.7 200.9L853.5 200.5L855.4 200.0L857.3 199.6L859.1 199.2L861.0 198.8L862.8 198.4L864.7 198.0L866.5 197.6L868.4 197.2L870.3 196.8L872.1 196.4L874.0 196.0L875.8 195.6L877.7 195.2L879.6 194.8L881.4 194.4L883.3 194.0L885.1 193.6L887.0 193.2L888.8 192.8L890.7 192.3L892.6 191.9L894.4 191.5L896.3 191.1L898.1 190.7L900.0 190.3L901.8 189.9L903.7 189.5L905.6 189.1L907.4 188.7L909.3 188.3L911.1 187.9L913.0 187.5L914.9 187.1L916.7 186.7L918.6 186.3L920.4 185.9L922.3 185.5L924.1 185.0L926.0 184.6L927.9 184.2L929.7 183.8L931.6 183.4L933.4 183.0L935.3 182.6L937.1 182.2L939.0 181.8L940.9 181.4L942.7 181.0L944.6 180.6L946.4 180.2L948.3 179.8L950.2 179.4L952.0 179.0L953.9 178.6L955.7 178.2L957.6 177.8L959.4 177.4L961.3 176.9L963.2 176.5L965.0 176.1L966.9 175.7L968.7 175.3L970.6 174.9L972.4 174.5L974.3 174.1L976.2 173.7L978.0 173.3L979.9 172.9L981.7 172.5L983.6 172.1L985.5 171.7L987.3 171.3L989.2 170.9L991.0 170.5L992.9 170.1L994.7 169.7L996.6 169.3L998.5 168.9L1000.3 168.4L1002.2 168.0L1004.0 167.6L1005.9 167.2L1007.7 166.8L1009.6 166.4L1011.5 166.0L1013.3 165.6L1015.2 165.2L1017.0 164.8L1018.9 164.4L1020.8 164.0L1022.6 163.6L1024.5 163.2L1026.3 162.8L1028.2 162.4L1030.0 162.0L1031.9 161.6L1033.8 161.2L1035.6 160.8L1037.5 160.4L1039.3 160.0L1041.2 159.6L1043.0 159.1L1044.9 158.7L1046.8 158.3L1048.6 157.9L1050.5 157.5L1052.3 157.1L1054.2 156.7L1056.0 156.3L1057.9 155.9L1059.8 155.5L1061.6 155.1L1063.5 154.7L1065.3 154.3L1067.2 153.9L1069.1 153.5L1070.9 153.1L1072.8 152.7L1074.6 152.3L1076.5 151.9L1078.3 151.5L1080.2 151.1L1082.1 150.7L1083.9 150.3L1085.8 149.9L1087.6 149.5L1089.5 149.1L1091.3 148.7L1093.2 148.3L1095.1 147.9L1096.9 147.4L1098.8 147.0L1100.6 146.6L1102.5 146.2L1104.4 145.8L1106.2 145.4L1108.1 145.0L1109.9 144.6L1111.8 144.2L1113.6 143.8L1115.5 143.4L1117.4 143.0L1119.2 142.6L1121.1 142.2L1122.9 141.8L1124.8 141.4L1126.6 141.0L1128.5 140.6L1130.4 140.2L1132.2 139.8L1134.1 139.4L1135.9 139.0L1137.8 138.6L1139.7 138.2L1141.5 137.8L1143.4 137.4L1145.2 137.0L1147.1 136.6L1148.9 136.2L1150.8 135.8L1152.7 135.4L1154.5 135.0L1156.4 134.6L1158.2 134.2L1160.1 133.8L1161.9 133.4L1163.8 133.0L1165.7 132.6L1167.5 132.2L1169.4 131.8L1171.2 131.4L1173.1 131.0L1175.0 130.6L1176.8 130.2L1178.7 129.8L1180.5 129.4L1182.4 129.0L1184.2 128.6L1186.1 128.2L1188.0 127.8L1189.8 127.4L1191.7 127.0L1193.5 126.6L1195.4 126.2L1197.2 125.8L1199.1 125.4L1201.0 125.0L1202.8 124.6L1204.7 124.2L1206.5 123.8L1208.4 123.5L1210.3 123.1L1212.1 122.7L1214.0 122.3L1215.8 121.9L1217.7 121.5L1219.5 121.1L1221.4 120.7L1223.3 120.3L1225.1 119.9L1227.0 119.5L1228.8 119.1L1230.7 118.7L1232.5 118.3L1234.4 117.9L1236.3 117.5L1238.1 117.1L1240.0 116.8L1241.8 116.4L1243.7 116.0L1245.6 115.6L1247.4 115.2L1249.3 114.8L1251.1 114.4L1253.0 114.0L1254.8 113.6L1256.7 113.2L1258.6 112.9L1260.4 112.5L1262.3 112.1L1264.1 111.7L1266.0 111.3L1267.8 110.9L1269.7 110.5L1271.6 110.1L1273.4 109.8L1275.3 109.4L1277.1 109.0L1279.0 108.6L1280.8 108.2L1282.7 107.8L1284.6 107.4L1286.4 107.1L1288.3 106.7L1290.1 106.3L1292.0 105.9L1293.9 105.5L1295.7 105.2L1297.6 104.8L1299.4 104.4L1301.3 104.0L1303.1 103.6L1305.0 103.3L1306.9 102.9L1308.7 102.5L1310.6 102.1L1312.4 101.7L1314.3 101.4L1316.1 101.0L1318.0 100.6L1319.9 100.2L1321.7 99.9L1323.6 99.5L1325.4 99.1L1327.3 98.8L1329.2 98.4L1331.0 98.0L1332.9 97.7L1334.7 97.3L1336.6 96.9L1338.4 96.6L1340.3 96.2L1342.2 95.8L1344.0 95.5L1345.9 95.1L1347.7 94.7L1349.6 94.4L1351.4 94.0L1353.3 93.7L1355.2 93.3L1357.0 92.9L1358.9 92.6L1360.7 92.2L1362.6 91.9L1364.5 91.5L1366.3 91.2L1368.2 90.8L1370.0 90.5L1371.9 90.1L1373.7 89.8L1375.6 89.4L1377.5 89.1L1379.3 88.7L1381.2 88.4L1383.0 88.0L1384.9 87.7L1386.7 87.4L1388.6 87.0L1390.5 86.7L1392.3 86.4L1394.2 86.0L1396.0 85.7L1397.9 85.4L1399.8 85.0L1401.6 84.7L1403.5 84.4L1405.3 84.1L1407.2 83.7L1409.0 83.4L1410.9 83.1L1412.8 82.8L1414.6 82.5L1416.5 82.1L1418.3 81.8L1420.2 81.5L1422.0 81.2L1423.9 80.9L1425.8 80.6L1427.6 80.3L1429.5 80.0L1431.3 79.7L1433.2 79.4L1435.1 79.1L1436.9 78.8L1438.8 78.6L1440.6 78.3L1442.5 78.0L1444.3 77.7L1446.2 77.4L1448.1 77.2L1449.9 76.9L1451.8 76.6L1453.6 76.4L1455.5 76.1L1457.3 75.8L1459.2 75.6L1461.1 75.3L1462.9 75.1L1464.8 74.8L1466.6 74.6L1468.5 74.4L1470.4 74.1L1472.2 73.9L1474.1 73.7L1475.9 73.4L1477.8 73.2L1479.6 73.0L1481.5 72.8L1483.4 72.6L1485.2 72.4L1487.1 72.2L1488.9 72.0L1490.8 71.8L1492.6 71.6L1494.5 71.4L1496.4 71.3L1498.2 71.1L1500.1 70.9L1501.9 70.8L1503.8 70.6L1505.7 70.5L1507.5 70.3L1509.4 70.2L1511.2 70.1L1513.1 69.9L1514.9 69.8L1516.8 69.7L1518.7 69.6L1520.5 69.5L1522.4 69.4L1524.2 69.3L1526.1 69.3L1527.9 69.2L1529.8 69.2L1531.7 69.1L1533.5 69.1L1535.4 69.0L1537.2 69.0L1539.1 69.0L1541.0 69.0L1542.8 69.0L1544.7 69.0L1546.5 69.1L1548.4 69.1L1550.2 69.1L1552.1 69.2L1554.0 69.3L1555.8 69.4L1557.7 69.5L1559.5 69.6L1561.4 69.7L1563.2 69.8L1565.1 70.0L1567.0 70.2L1568.8 70.4L1570.7 70.6L1572.5 70.8L1574.4 71.0L1576.2 71.3L1578.1 71.5L1580.0 71.8L1581.8 72.1L1583.7 72.5L1585.5 72.8L1587.4 73.2L1589.3 73.6L1591.1 74.0L1593.0 74.5L1594.8 75.0L1596.7 75.5L1598.5 76.0L1600.4 76.6L1602.3 77.2L1604.1 77.8L1606.0 78.5L1607.8 79.2L1609.7 79.9L1611.5 80.7L1613.4 81.6L1615.3 82.5L1617.1 83.4L1619.0 84.4L1620.8 85.4L1622.7 86.5L1624.6 87.7L1626.4 89.0L1628.3 90.3L1630.1 91.7L1632.0 93.2L1633.8 94.8L1635.7 96.5L1637.6 98.4L1639.4 100.4L1641.3 102.5L1643.1 104.8L1645.0 107.3L1646.8 110.0L1648.7 112.9L1650.6 116.2L1652.4 119.8L1654.3 123.8L1656.1 128.3L1658.0 133.5L1659.9 139.6L1661.7 146.8L1663.6 155.7L1665.4 167.3L1667.3 183.7L1669.1 212.0L1671.0 599.1" stroke="#ff0000" stroke-width="14" stroke-linecap="round" stroke-dasharray="22 40.3" stroke-dashoffset="-10"/>
<path d="M370.5 239.8L376.7 238.4L382.9 237.0L389.1 235.7L395.4 234.3L401.6 233.0L407.8 231.6L414.0 230.3L420.2 228.9L426.4 227.5L432.6 226.2L438.9 224.8L445.1 223.5L451.3 222.1L457.5 220.8L463.7 219.4L469.9 218.0L476.1 216.7L482.4 215.3L488.6 214.0L494.8 212.6L501.0 211.3L507.2 209.9L513.4 208.6L519.6 207.2L525.9 205.8L532.1 204.5L538.3 203.1L544.5 201.8L550.7 200.4L556.9 199.1L563.1 197.7L569.3 196.3L575.6 195.0L581.8 193.6L588.0 192.3L594.2 190.9L600.4 189.6L606.6 188.2L612.8 186.9L619.1 185.5L625.3 184.1L631.5 182.8L637.7 181.4L643.9 180.1L650.1 178.7L656.3 177.4L662.6 176.0L668.8 174.7L675.0 173.3L681.2 172.0L687.4 170.6L693.6 169.2L699.8 167.9L706.1 166.5L712.3 165.2L718.5 163.8L724.7 162.5L730.9 161.1L737.1 159.8L743.3 158.4L749.6 157.1L755.8 155.7L762.0 154.4L768.2 153.0L774.4 151.7L780.6 150.3L786.8 149.0L793.1 147.6L799.3 146.3L805.5 144.9L811.7 143.6L817.9 142.3L824.1 140.9L830.3 139.6L836.6 138.2L842.8 136.9L849.0 135.5L855.2 134.2L861.4 132.9L867.6 131.5L873.8 130.2L880.0 128.9L886.3 127.5L892.5 126.2L898.7 124.9L904.9 123.6L911.1 122.2L917.3 120.9L923.5 119.6L929.8 118.3L936.0 117.0L942.2 115.7L948.4 114.4L954.6 113.0L960.8 111.7L967.0 110.5L973.3 109.2L979.5 107.9L985.7 106.6L991.9 105.3L998.1 104.0L1004.3 102.8L1010.5 101.5L1016.8 100.3L1023.0 99.0L1029.2 97.8L1035.4 96.6L1041.6 95.3L1047.8 94.1L1054.0 92.9L1060.3 91.7L1066.5 90.6L1072.7 89.4L1078.9 88.3L1085.1 87.1L1091.3 86.0L1097.5 84.9L1103.8 83.8L1110.0 82.7L1116.2 81.7L1122.4 80.7L1128.6 79.7L1134.8 78.7L1141.0 77.8L1147.3 76.8L1153.5 76.0L1159.7 75.1L1165.9 74.3L1172.1 73.5L1178.3 72.8L1184.5 72.1L1190.7 71.5L1197.0 70.9L1203.2 70.4L1209.4 70.0L1215.6 69.6L1221.8 69.3L1228.0 69.1L1234.2 69.0L1240.5 69.0L1246.7 69.1L1252.9 69.4L1259.1 69.8L1265.3 70.3L1271.5 71.0L1277.7 72.0L1284.0 73.1L1290.2 74.5L1296.4 76.3L1302.6 78.3L1308.8 80.9L1315.0 83.9L1321.2 87.5L1327.5 92.0L1333.7 97.5L1339.9 104.5L1346.1 113.6L1352.3 126.2L1358.5 146.0L1364.7 189.1M1371.2 189.1L1372.0 180.1L1372.7 172.7L1373.5 166.5L1374.3 161.0L1375.1 156.2L1375.8 151.8L1376.6 147.9L1377.4 144.3L1378.2 141.0L1378.9 137.9L1379.7 135.1L1380.5 132.4L1381.3 129.9L1382.1 127.5L1382.8 125.2L1383.6 123.1L1384.4 121.1L1385.2 119.2L1385.9 117.3L1386.7 115.5L1387.5 113.9L1388.3 112.2L1389.0 110.7L1389.8 109.2L1390.6 107.7L1391.4 106.3L1392.1 105.0L1392.9 103.7L1393.7 102.5L1394.5 101.2L1395.2 100.1L1396.0 98.9L1396.8 97.8L1397.6 96.8L1398.3 95.7L1399.1 94.7L1399.9 93.7L1400.7 92.8L1401.4 91.9L1402.2 91.0L1403.0 90.1L1403.8 89.3L1404.5 88.4L1405.3 87.6L1406.1 86.9L1406.9 86.1L1407.6 85.4L1408.4 84.7L1409.2 84.0L1410.0 83.3L1410.7 82.6L1411.5 82.0L1412.3 81.4L1413.1 80.8L1413.8 80.2L1414.6 79.6L1415.4 79.1L1416.2 78.5L1416.9 78.0L1417.7 77.5L1418.5 77.0L1419.3 76.5L1420.0 76.1L1420.8 75.6L1421.6 75.2L1422.4 74.8L1423.1 74.4L1423.9 74.0L1424.7 73.7L1425.5 73.3L1426.2 73.0L1427.0 72.6L1427.8 72.3L1428.6 72.0L1429.3 71.7L1430.1 71.5L1430.9 71.2L1431.7 71.0L1432.4 70.7L1433.2 70.5L1434.0 70.3L1434.8 70.1L1435.5 70.0L1436.3 69.8L1437.1 69.7L1437.9 69.5L1438.6 69.4L1439.4 69.3L1440.2 69.2L1441.0 69.1L1441.7 69.1L1442.5 69.0L1443.3 69.0L1444.1 69.0L1444.8 69.0L1445.6 69.0L1446.4 69.1L1447.2 69.1L1447.9 69.2L1448.7 69.3L1449.5 69.4L1450.3 69.5L1451.0 69.6L1451.8 69.8L1452.6 69.9L1453.4 70.1L1454.1 70.3L1454.9 70.5L1455.7 70.8L1456.5 71.1L1457.3 71.3L1458.0 71.7L1458.8 72.0L1459.6 72.3L1460.4 72.7L1461.1 73.1L1461.9 73.5L1462.7 74.0L1463.5 74.5L1464.2 75.0L1465.0 75.5L1465.8 76.0L1466.6 76.6L1467.3 77.2L1468.1 77.9L1468.9 78.6L1469.7 79.3L1470.4 80.0L1471.2 80.8L1472.0 81.7L1472.8 82.5L1473.5 83.5L1474.3 84.4L1475.1 85.4L1475.9 86.5L1476.6 87.6L1477.4 88.8L1478.2 90.1L1479.0 91.4L1479.7 92.7L1480.5 94.2L1481.3 95.7L1482.1 97.4L1482.8 99.1L1483.6 101.0L1484.4 102.9L1485.2 105.0L1485.9 107.2L1486.7 109.6L1487.5 112.2L1488.3 115.0L1489.0 118.1L1489.8 121.4L1490.6 125.1L1491.4 129.2L1492.1 133.7L1492.9 138.9L1493.7 144.9L1494.5 152.0L1495.2 160.7M1501.7 160.7L1502.1 155.4L1502.6 150.7L1503.0 146.5L1503.4 142.7L1503.9 139.2L1504.3 136.0L1504.8 133.0L1505.2 130.2L1505.6 127.6L1506.1 125.2L1506.5 122.9L1506.9 120.7L1507.4 118.7L1507.8 116.7L1508.2 114.8L1508.7 113.1L1509.1 111.4L1509.6 109.7L1510.0 108.2L1510.4 106.7L1510.9 105.3L1511.3 103.9L1511.7 102.6L1512.2 101.3L1512.6 100.0L1513.0 98.8L1513.5 97.7L1513.9 96.6L1514.4 95.5L1514.8 94.5L1515.2 93.5L1515.7 92.5L1516.1 91.5L1516.5 90.6L1517.0 89.7L1517.4 88.9L1517.9 88.0L1518.3 87.2L1518.7 86.5L1519.2 85.7L1519.6 85.0L1520.0 84.2L1520.5 83.5L1520.9 82.9L1521.3 82.2L1521.8 81.6L1522.2 81.0L1522.7 80.4L1523.1 79.8L1523.5 79.2L1524.0 78.7L1524.4 78.2L1524.8 77.7L1525.3 77.2L1525.7 76.7L1526.2 76.2L1526.6 75.8L1527.0 75.4L1527.5 75.0L1527.9 74.6L1528.3 74.2L1528.8 73.8L1529.2 73.5L1529.6 73.1L1530.1 72.8L1530.5 72.5L1531.0 72.2L1531.4 71.9L1531.8 71.6L1532.3 71.4L1532.7 71.1L1533.1 70.9L1533.6 70.7L1534.0 70.5L1534.4 70.3L1534.9 70.1L1535.3 69.9L1535.8 69.8L1536.2 69.7L1536.6 69.5L1537.1 69.4L1537.5 69.3L1537.9 69.2L1538.4 69.2L1538.8 69.1L1539.3 69.1L1539.7 69.0L1540.1 69.0L1540.6 69.0L1541.0 69.0L1541.4 69.0L1541.9 69.1L1542.3 69.1L1542.7 69.2L1543.2 69.3L1543.6 69.4L1544.1 69.5L1544.5 69.6L1544.9 69.7L1545.4 69.9L1545.8 70.0L1546.2 70.2L1546.7 70.4L1547.1 70.6L1547.6 70.9L1548.0 71.1L1548.4 71.4L1548.9 71.7L1549.3 72.0L1549.7 72.3L1550.2 72.6L1550.6 73.0L1551.0 73.4L1551.5 73.8L1551.9 74.2L1552.4 74.6L1552.8 75.1L1553.2 75.5L1553.7 76.0L1554.1 76.6L1554.5 77.1L1555.0 77.7L1555.4 78.3L1555.9 78.9L1556.3 79.6L1556.7 80.3L1557.2 81.0L1557.6 81.7L1558.0 82.5L1558.5 83.3L1558.9 84.1L1559.3 85.0L1559.8 85.9L1560.2 86.9L1560.7 87.9L1561.1 88.9L1561.5 90.0L1562.0 91.2L1562.4 92.4L1562.8 93.6L1563.3 94.9L1563.7 96.3L1564.1 97.8L1564.6 99.3L1565.0 100.9L1565.5 102.6L1565.9 104.4L1566.3 106.3L1566.8 108.3L1567.2 110.4L1567.6 112.7L1568.1 115.1L1568.5 117.7L1569.0 120.5L1569.4 123.6L1569.8 126.9L1570.3 130.5L1570.7 134.5L1571.1 139.0L1571.6 144.1M1578.0 144.1L1578.3 140.5L1578.6 137.1L1578.9 134.0L1579.2 131.1L1579.5 128.4L1579.8 125.9L1580.1 123.6L1580.4 121.3L1580.7 119.2L1581.0 117.2L1581.3 115.3L1581.6 113.5L1581.9 111.8L1582.2 110.1L1582.5 108.6L1582.8 107.0L1583.1 105.6L1583.4 104.2L1583.7 102.9L1584.0 101.6L1584.3 100.3L1584.6 99.1L1584.9 98.0L1585.2 96.8L1585.5 95.8L1585.8 94.7L1586.1 93.7L1586.4 92.7L1586.7 91.8L1587.0 90.9L1587.3 90.0L1587.6 89.1L1587.9 88.3L1588.2 87.5L1588.5 86.7L1588.8 85.9L1589.1 85.2L1589.4 84.5L1589.7 83.8L1590.0 83.1L1590.3 82.5L1590.6 81.8L1590.8 81.2L1591.1 80.6L1591.4 80.1L1591.7 79.5L1592.0 79.0L1592.3 78.4L1592.6 77.9L1592.9 77.4L1593.2 77.0L1593.5 76.5L1593.8 76.1L1594.1 75.6L1594.4 75.2L1594.7 74.8L1595.0 74.4L1595.3 74.1L1595.6 73.7L1595.9 73.4L1596.2 73.1L1596.5 72.7L1596.8 72.4L1597.1 72.2L1597.4 71.9L1597.7 71.6L1598.0 71.4L1598.3 71.1L1598.6 70.9L1598.9 70.7L1599.2 70.5L1599.5 70.3L1599.8 70.1L1600.1 70.0L1600.4 69.8L1600.7 69.7L1601.0 69.6L1601.3 69.5L1601.6 69.4L1601.9 69.3L1602.2 69.2L1602.5 69.1L1602.8 69.1L1603.1 69.0L1603.4 69.0L1603.7 69.0L1604.0 69.0L1604.3 69.0L1604.6 69.0L1604.9 69.1L1605.2 69.1L1605.5 69.2L1605.8 69.3L1606.1 69.3L1606.4 69.4L1606.7 69.6L1607.0 69.7L1607.2 69.8L1607.5 70.0L1607.8 70.2L1608.1 70.3L1608.4 70.5L1608.7 70.7L1609.0 71.0L1609.3 71.2L1609.6 71.5L1609.9 71.7L1610.2 72.0L1610.5 72.3L1610.8 72.6L1611.1 73.0L1611.4 73.3L1611.7 73.7L1612.0 74.1L1612.3 74.5L1612.6 74.9L1612.9 75.4L1613.2 75.8L1613.5 76.3L1613.8 76.8L1614.1 77.3L1614.4 77.9L1614.7 78.5L1615.0 79.0L1615.3 79.7L1615.6 80.3L1615.9 81.0L1616.2 81.7L1616.5 82.4L1616.8 83.1L1617.1 83.9L1617.4 84.7L1617.7 85.5L1618.0 86.4L1618.3 87.3L1618.6 88.3L1618.9 89.3L1619.2 90.3L1619.5 91.4L1619.8 92.5L1620.1 93.6L1620.4 94.8L1620.7 96.1L1621.0 97.4L1621.3 98.8L1621.6 100.3L1621.9 101.8L1622.2 103.4L1622.5 105.1L1622.8 106.9L1623.1 108.7L1623.3 110.7L1623.6 112.8L1623.9 115.1L1624.2 117.4L1624.5 120.0L1624.8 122.7L1625.1 125.7L1625.4 128.9L1625.7 132.4M1632.2 132.4L1632.4 129.7L1632.6 127.1L1632.9 124.7L1633.1 122.5L1633.3 120.3L1633.5 118.3L1633.7 116.4L1634.0 114.5L1634.2 112.8L1634.4 111.1L1634.6 109.5L1634.9 108.0L1635.1 106.5L1635.3 105.1L1635.5 103.8L1635.7 102.5L1636.0 101.2L1636.2 100.0L1636.4 98.8L1636.6 97.7L1636.9 96.6L1637.1 95.6L1637.3 94.5L1637.5 93.6L1637.7 92.6L1638.0 91.7L1638.2 90.8L1638.4 89.9L1638.6 89.1L1638.9 88.3L1639.1 87.5L1639.3 86.7L1639.5 86.0L1639.7 85.3L1640.0 84.6L1640.2 83.9L1640.4 83.2L1640.6 82.6L1640.9 82.0L1641.1 81.4L1641.3 80.8L1641.5 80.2L1641.7 79.7L1642.0 79.1L1642.2 78.6L1642.4 78.1L1642.6 77.7L1642.9 77.2L1643.1 76.7L1643.3 76.3L1643.5 75.9L1643.7 75.5L1644.0 75.1L1644.2 74.7L1644.4 74.3L1644.6 74.0L1644.9 73.6L1645.1 73.3L1645.3 73.0L1645.5 72.7L1645.7 72.4L1646.0 72.1L1646.2 71.9L1646.4 71.6L1646.6 71.4L1646.9 71.1L1647.1 70.9L1647.3 70.7L1647.5 70.5L1647.7 70.3L1648.0 70.2L1648.2 70.0L1648.4 69.9L1648.6 69.7L1648.9 69.6L1649.1 69.5L1649.3 69.4L1649.5 69.3L1649.7 69.2L1650.0 69.2L1650.2 69.1L1650.4 69.1L1650.6 69.0L1650.9 69.0L1651.1 69.0L1651.3 69.0L1651.5 69.0L1651.7 69.0L1652.0 69.1L1652.2 69.1L1652.4 69.2L1652.6 69.3L1652.9 69.3L1653.1 69.4L1653.3 69.5L1653.5 69.7L1653.7 69.8L1654.0 69.9L1654.2 70.1L1654.4 70.3L1654.6 70.4L1654.9 70.6L1655.1 70.8L1655.3 71.1L1655.5 71.3L1655.7 71.5L1656.0 71.8L1656.2 72.1L1656.4 72.4L1656.6 72.7L1656.9 73.0L1657.1 73.3L1657.3 73.7L1657.5 74.1L1657.7 74.4L1658.0 74.8L1658.2 75.2L1658.4 75.7L1658.6 76.1L1658.9 76.6L1659.1 77.1L1659.3 77.6L1659.5 78.1L1659.7 78.7L1660.0 79.2L1660.2 79.8L1660.4 80.4L1660.6 81.1L1660.9 81.7L1661.1 82.4L1661.3 83.1L1661.5 83.8L1661.7 84.6L1662.0 85.4L1662.2 86.2L1662.4 87.1L1662.6 87.9L1662.9 88.8L1663.1 89.8L1663.3 90.8L1663.5 91.8L1663.7 92.9L1664.0 94.0L1664.2 95.1L1664.4 96.3L1664.6 97.6L1664.9 98.9L1665.1 100.3L1665.3 101.7L1665.5 103.2L1665.7 104.8L1666.0 106.4L1666.2 108.1L1666.4 110.0L1666.6 111.9L1666.9 113.9L1667.1 116.1L1667.3 118.4L1667.5 120.8L1667.7 123.4" stroke="#0000ff" stroke-width="14.5" stroke-linecap="round" stroke-dasharray="0.1 26.0" stroke-dashoffset="-6"/>
<path d="M1368.0 209.1V572.3M1498.5 180.7V572.3M1574.8 164.1V572.3M1629.0 152.4V572.3" stroke="#0000ff" stroke-width="17" stroke-linecap="round" stroke-dasharray="0.1 26.9"/>
</g>
<rect x="960.3" y="274.1" width="381.7" height="251" fill="#fff" stroke="#000" stroke-width="3"/>
<line x1="960" y1="318.8" x2="1102.5" y2="318.8" stroke="#000" stroke-width="15" stroke-linecap="round"/>
<line x1="960" y1="403.4" x2="1105" y2="403.4" stroke="#f00" stroke-width="14.5" stroke-linecap="round" stroke-dasharray="22 41.5"/>
<line x1="960.5" y1="488.5" x2="1105" y2="488.5" stroke="#00f" stroke-width="15" stroke-linecap="round" stroke-dasharray="0.1 27.2"/>
<rect x="370.5" y="69.0" width="1300.5" height="473.3" fill="none" stroke="#000" stroke-width="12"/>
<path d="M370.5 547.3V560.3M501.0 547.3V551.5M577.3 547.3V551.5M631.5 547.3V551.5M673.5 547.3V551.5M707.8 547.3V551.5M736.9 547.3V551.5M762.0 547.3V551.5M784.2 547.3V551.5M804.0 547.3V560.3M934.5 547.3V551.5M1010.8 547.3V551.5M1065.0 547.3V551.5M1107.0 547.3V551.5M1141.3 547.3V551.5M1170.4 547.3V551.5M1195.5 547.3V551.5M1217.7 547.3V551.5M1237.5 547.3V560.3M1368.0 547.3V551.5M1444.3 547.3V551.5M1498.5 547.3V551.5M1540.5 547.3V551.5M1574.8 547.3V551.5M1603.9 547.3V551.5M1629.0 547.3V551.5M1651.2 547.3V551.5M1671.0 547.3V560.3M1676.0 69.0H1689.0M1676.0 305.6H1689.0M1676.0 542.3H1689.0M1676.0 187.3H1680.5M1676.0 424.0H1680.5" stroke="#000" stroke-width="12" fill="none"/>
<rect x="1906.5" y="62.3" width="94.0" height="500.8" fill="url(#cbg)" stroke="#000" stroke-width="3"/>
<path d="M2001.0 73.5H2030.0M2001.0 313.1H2030.0M2001.0 552.6H2030.0M2001.0 193.3H1987.0M2001.0 432.8H1987.0" stroke="#000" stroke-width="3" fill="none"/>
<text x="309.0" y="620.4" font-family="'Liberation Sans', Arial, sans-serif" font-size="80.0" font-weight="normal">10<tspan font-size="55.0" dy="-32.5" dx="0.5">2</tspan></text>
<text x="742.5" y="620.4" font-family="'Liberation Sans', Arial, sans-serif" font-size="80.0" font-weight="normal">10<tspan font-size="55.0" dy="-32.5" dx="0.5">3</tspan></text>
<text x="1176.0" y="620.4" font-family="'Liberation Sans', Arial, sans-serif" font-size="80.0" font-weight="normal">10<tspan font-size="55.0" dy="-32.5" dx="0.5">4</tspan></text>
<text x="1609.5" y="620.4" font-family="'Liberation Sans', Arial, sans-serif" font-size="80.0" font-weight="normal">10<tspan font-size="55.0" dy="-32.5" dx="0.5">5</tspan></text>
<text x="1701.7" y="89.5" font-family="'Liberation Sans', Arial, sans-serif" font-size="78.5" font-weight="normal" font-style="normal" text-anchor="start" >0</text>
<text x="1700.2" y="325.3" font-family="'Liberation Sans', Arial, sans-serif" font-size="78.5" font-weight="normal" font-style="normal" text-anchor="start" >-50</text>
<text x="1700.2" y="561.0" font-family="'Liberation Sans', Arial, sans-serif" font-size="78.5" font-weight="normal" font-style="normal" text-anchor="start" >-100</text>
<text x="2046.0" y="99.0" font-family="'Liberation Sans', Arial, sans-serif" font-size="79.0" font-weight="normal" font-style="normal" text-anchor="start" >0</text>
<text x="2045.7" y="338.0" font-family="'Liberation Sans', Arial, sans-serif" font-size="79.0" font-weight="normal" font-style="normal" text-anchor="start" >-50</text>
<text x="2045.7" y="576.5" font-family="'Liberation Sans', Arial, sans-serif" font-size="79.0" font-weight="normal" font-style="normal" text-anchor="start" >-100</text>
<text x="1698.5" y="690.2" font-family="'Liberation Sans', Arial, sans-serif" font-size="80.0" font-weight="normal">10<tspan font-size="55.0" dy="-31.0" dx="-2.5">-4</tspan></text>
<text x="1698.5" y="1241.4" font-family="'Liberation Sans', Arial, sans-serif" font-size="80.0" font-weight="normal">10<tspan font-size="55.0" dy="-30.0" dx="-2.5">-5</tspan></text>
<text x="1698.5" y="1792.5" font-family="'Liberation Sans', Arial, sans-serif" font-size="80.0" font-weight="normal">10<tspan font-size="55.0" dy="-30.0" dx="-2.5">-6</tspan></text>
<text transform="translate(132.0 836.7) rotate(0) scale(1.060 1)" font-family="'Liberation Sans', Arial, sans-serif" font-size="68.5" font-weight="bold" text-anchor="start" >5×10<tspan font-size="46" dy="-32.5" dx="1">-5</tspan></text>
<text transform="translate(122.5 1238.6) rotate(0) scale(1.075 1)" font-family="'Liberation Sans', Arial, sans-serif" font-size="68.5" font-weight="bold" text-anchor="start" >1×10<tspan font-size="46" dy="-32.5" dx="1">-5</tspan></text>
<text transform="translate(122.5 1607.5) rotate(0) scale(1.070 1)" font-family="'Liberation Sans', Arial, sans-serif" font-size="68.5" font-weight="bold" text-anchor="start" >2×10<tspan font-size="46" dy="-32.5" dx="1">-5</tspan></text>
<text transform="translate(808.8 1838.2) rotate(0) scale(1.045 1)" font-family="'Liberation Sans', Arial, sans-serif" font-size="69.5" font-weight="bold" text-anchor="middle" >1000</text>
<text transform="translate(1236.7 1838.2) rotate(0) scale(1.045 1)" font-family="'Liberation Sans', Arial, sans-serif" font-size="69.5" font-weight="bold" text-anchor="middle" >10,000</text>
<text transform="translate(1530.5 1838.2) rotate(0) scale(1.045 1)" font-family="'Liberation Sans', Arial, sans-serif" font-size="69.5" font-weight="bold" text-anchor="middle" >50,000</text>
<text transform="translate(403.0 123.5) rotate(0) scale(1.090 1)" font-family="'Liberation Serif', 'Times New Roman', serif" font-size="68.0" font-weight="bold" text-anchor="start" >(b)</text>
<text transform="translate(404.5 725.5) rotate(0) scale(1.090 1)" font-family="'Liberation Serif', 'Times New Roman', serif" font-size="68.0" font-weight="bold" text-anchor="start" >(a)</text>
<text x="1127" y="338.5" font-family="'Liberation Sans', Arial, sans-serif" font-size="63"><tspan font-family="'Liberation Serif', 'Times New Roman', serif" font-style="italic" font-size="66">τ</tspan>=2 <tspan font-family="'Liberation Serif', 'Times New Roman', serif" font-size="63">µ</tspan>s</text>
<text x="1127" y="423.1" font-family="'Liberation Sans', Arial, sans-serif" font-size="63"><tspan font-family="'Liberation Serif', 'Times New Roman', serif" font-style="italic" font-size="66">τ</tspan>=10 <tspan font-family="'Liberation Serif', 'Times New Roman', serif" font-size="63">µ</tspan>s</text>
<text x="1127" y="507.7" font-family="'Liberation Sans', Arial, sans-serif" font-size="63"><tspan font-family="'Liberation Serif', 'Times New Roman', serif" font-style="italic" font-size="66">τ</tspan>=50 <tspan font-family="'Liberation Serif', 'Times New Roman', serif" font-size="63">µ</tspan>s</text>
<text transform="translate(979.0 1923.3) rotate(0) scale(1.380 1)" font-family="'Liberation Serif', 'Times New Roman', serif" font-size="75.0" font-weight="normal" text-anchor="start" font-style="italic">f</text>
<text transform="translate(1013.5 1932.5) rotate(0) scale(1.040 1)" font-family="'Liberation Serif', 'Times New Roman', serif" font-size="46.0" font-weight="normal" text-anchor="start" >m</text>
<text transform="translate(1071.5 1923.3) rotate(0) scale(0.905 1)" font-family="'Liberation Serif', 'Times New Roman', serif" font-size="73.0" font-weight="normal" text-anchor="start" >(Hz)</text>
<text transform="translate(81.0 1298.5) rotate(-90) scale(0.960 1)" font-family="'Liberation Serif', 'Times New Roman', serif" font-size="76.0" font-weight="normal" text-anchor="start" ><tspan font-style="italic">τ</tspan>(s)</text>
<g transform="translate(2256.5 487) rotate(-90)"><text x="0" y="0" font-family="'Liberation Serif', 'Times New Roman', serif" font-size="72" textLength="363" lengthAdjust="spacingAndGlyphs">H(<tspan font-style="italic" font-size="78">f</tspan><tspan font-size="50" dy="9">m,</tspan><tspan dy="-9"> </tspan><tspan font-style="italic">τ</tspan>) (dB)</text></g>
<g clip-path="url(#cc)" fill="none">
<path d="M2143.9 1766.0L2179.6 1600.0L2200.5 1502.9L2215.4 1434.1L2226.9 1380.6L2236.3 1337.0L2244.2 1300.1L2251.1 1268.1L2257.2 1239.9L2262.6 1214.7L2267.5 1191.8L2272.0 1171.0L2276.1 1151.8L2279.9 1134.1L2283.5 1117.6L2286.8 1102.1L2289.9 1087.6L2292.9 1073.9L2295.7 1061.0L2298.3 1048.7L2300.8 1037.0L2303.2 1025.9L2305.5 1015.2L2307.7 1005.0L2309.8 995.2L2311.8 985.9L2313.8 976.8L2315.6 968.1L2317.4 959.7L2319.2 951.6L2320.9 943.7L2322.5 936.1L2324.1 928.8L2325.6 921.6L2327.1 914.7L2328.5 907.9L2329.9 901.4L2331.3 895.0L2332.6 888.8L2333.9 882.7L2335.2 876.8L2336.4 871.0L2337.6 865.4L2338.8 859.9L2340.0 854.5L2341.1 849.2L2342.2 844.1L2343.3 839.0L2344.3 834.1L2345.4 829.3L2346.4 824.5L2347.4 819.9L2348.3 815.3L2349.3 810.8L2350.2 806.5L2351.2 802.1L2352.1 797.9L2352.9 793.7L2353.8 789.6L2354.7 785.6L2355.5 781.7L2356.3 777.8L2357.2 773.9L2358.0 770.2L2358.7 766.5L2359.5 762.8L2360.3 759.2L2361.0 755.6L2361.8 752.2L2362.5 748.7L2363.2 745.3L2363.9 742.0L2364.6 738.7L2365.3 735.4L2366.0 732.2L2366.7 729.0L2367.3 725.9L2368.0 722.8L2368.6 719.7L2369.3 716.7L2369.9 713.8L2370.5 710.8L2371.1 707.9L2371.7 705.0L2372.3 702.2L2372.9 699.4L2373.5 696.6L2374.1 693.9L2374.6 691.2L2375.2 688.5L2375.7 685.9L2376.3 683.3L2376.8 680.7L2377.4 678.1L2377.9 675.6L2378.4 673.1L2378.9 670.6L2379.5 668.1L2380.0 665.7L2380.5 663.3" stroke="#000" stroke-width="14"/>
<path d="M2262.6 1766.0L2298.3 1600.0L2319.2 1502.9L2333.9 1434.1L2345.4 1380.6L2354.7 1337.0L2362.5 1300.1L2369.3 1268.1L2375.2 1239.9L2380.5 1214.7L2385.2 1191.8L2389.5 1171.0L2393.4 1151.8L2397.0 1134.1L2400.3 1117.6L2403.4 1102.1L2406.2 1087.6L2408.8 1073.9L2411.3 1061.0L2413.6 1048.7L2415.8 1037.0L2417.8 1025.9L2419.7 1015.2L2421.5 1005.0L2423.1 995.2L2424.7 985.9L2426.2 976.8L2427.6 968.1L2428.9 959.7L2430.1 951.6L2431.2 943.7L2432.3 936.1L2433.3 928.8L2434.2 921.6L2435.1 914.7L2435.8 907.9L2436.6 901.4L2437.2 895.0L2437.9 888.8L2438.4 882.7L2438.9 876.8L2439.4 871.0L2439.7 865.4L2440.1 859.9L2440.4 854.5L2440.6 849.2L2440.8 844.1L2440.9 839.0L2441.0 834.1L2441.0 829.3L2441.0 824.5L2440.9 819.9L2440.8 815.3L2440.6 810.8L2440.4 806.5L2440.1 802.1L2439.7 797.9L2439.4 793.7L2438.9 789.6L2438.4 785.6L2437.9 781.7L2437.2 777.8L2436.6 773.9L2435.8 770.2L2435.1 766.5L2434.2 762.8L2433.3 759.2L2432.3 755.6L2431.2 752.2L2430.1 748.7L2428.9 745.3L2427.6 742.0L2426.2 738.7L2424.7 735.4L2423.1 732.2L2421.5 729.0L2419.7 725.9L2417.8 722.8L2415.8 719.7L2413.6 716.7L2411.3 713.8L2408.8 710.8L2406.2 707.9L2403.4 705.0L2400.3 702.2L2397.0 699.4L2393.4 696.6L2389.5 693.9L2385.2 691.2L2380.5 688.5L2375.2 685.9L2369.3 683.3L2362.5 680.7L2354.7 678.1L2345.4 675.6L2333.9 673.1L2319.2 670.6L2298.3 668.1L2262.6 665.7L553.7 663.3" stroke="#ff0000" stroke-width="14" stroke-linecap="round" stroke-dasharray="22 40" stroke-dashoffset="-4"/>
<path d="M2345.4 1766.0L2380.5 1600.0L2400.3 1502.9L2413.6 1434.1L2423.1 1380.6L2430.1 1337.0L2435.1 1300.1L2438.4 1268.1L2440.4 1239.9L2441.0 1214.7L2440.4 1191.8L2438.4 1171.0L2435.1 1151.8L2430.1 1134.1L2423.1 1117.6L2413.6 1102.1L2400.3 1087.6L2380.5 1073.9L2345.4 1061.0M2345.4 1037.0L2380.5 1025.9L2400.3 1015.2L2413.6 1005.0L2423.1 995.2L2430.1 985.9L2435.1 976.8L2438.4 968.1L2440.4 959.7L2441.0 951.6L2440.4 943.7L2438.4 936.1L2435.1 928.8L2430.1 921.6L2423.1 914.7L2413.6 907.9L2400.3 901.4L2380.5 895.0L2345.4 888.8M2345.4 876.8L2380.5 871.0L2400.3 865.4L2413.6 859.9L2423.1 854.5L2430.1 849.2L2435.1 844.1L2438.4 839.0L2440.4 834.1L2441.0 829.3L2440.4 824.5L2438.4 819.9L2435.1 815.3L2430.1 810.8L2423.1 806.5L2413.6 802.1L2400.3 797.9L2380.5 793.7L2345.4 789.6M2345.4 781.7L2380.5 777.8L2400.3 773.9L2413.6 770.2L2423.1 766.5L2430.1 762.8L2435.1 759.2L2438.4 755.6L2440.4 752.2L2441.0 748.7L2440.4 745.3L2438.4 742.0L2435.1 738.7L2430.1 735.4L2423.1 732.2L2413.6 729.0L2400.3 725.9L2380.5 722.8L2345.4 719.7M2345.4 713.8L2380.5 710.8L2400.3 707.9L2413.6 705.0L2423.1 702.2L2430.1 699.4L2435.1 696.6L2438.4 693.9L2440.4 691.2L2441.0 688.5L2440.4 685.9L2438.4 683.3L2435.1 680.7L2430.1 678.1L2423.1 675.6L2413.6 673.1L2400.3 670.6L2380.5 668.1L2345.4 665.7" stroke="#0000ff" stroke-width="14.5" stroke-linecap="round" stroke-dasharray="0.1 26.6" stroke-dashoffset="-12"/>
<path d="M1839.5 1057.5L2331.4 1060.9M1839.5 1040.3L2331.4 1037.1M1839.5 887.1L2331.4 888.7M1839.5 878.5L2331.4 876.8M1839.5 788.5L2331.4 789.6M1839.5 782.8L2331.4 781.7M1839.5 718.9L2331.4 719.7M1839.5 714.6L2331.4 713.8M1839.5 665.0L2331.4 665.7" stroke="#0000ff" stroke-width="16" stroke-linecap="round" stroke-dasharray="0.1 27.2"/>
</g>
<rect x="1888.4" y="1271.3" width="275.4" height="456" fill="#fff" stroke="#000" stroke-width="2.4"/>
<line x1="2127.6" y1="1272" x2="2127.6" y2="1417" stroke="#000" stroke-width="15" stroke-linecap="round"/>
<line x1="2032.6" y1="1272" x2="2032.6" y2="1417" stroke="#f00" stroke-width="14.5" stroke-linecap="round" stroke-dasharray="22 41.5"/>
<line x1="1937" y1="1272.5" x2="1937" y2="1417" stroke="#00f" stroke-width="15" stroke-linecap="round" stroke-dasharray="0.1 27.2"/>
<rect x="1847.5" y="663.3" width="593.5" height="1102.7" fill="none" stroke="#000" stroke-width="11.6"/>
<path d="M1842.5 663.3H1829.0M1842.5 1048.7H1838.3M1842.5 951.6H1838.3M1842.5 882.7H1838.3M1842.5 829.3H1838.3M1842.5 785.6H1838.3M1842.5 748.7H1838.3M1842.5 716.7H1838.3M1842.5 688.5H1838.3M1842.5 1214.7H1829.0M1842.5 1600.0H1838.3M1842.5 1502.9H1838.3M1842.5 1434.1H1838.3M1842.5 1380.6H1838.3M1842.5 1337.0H1838.3M1842.5 1300.1H1838.3M1842.5 1268.1H1838.3M1842.5 1239.9H1838.3M1842.5 1766.0H1829.0M1847.5 1771.0V1784.5M2144.2 1771.0V1784.5M2441.0 1771.0V1784.5M1995.9 1771.0V1775.2M2292.6 1771.0V1775.2" stroke="#000" stroke-width="11.6" fill="none"/>
<text transform="translate(1858.5 726.0) rotate(0) scale(1.060 1)" font-family="'Liberation Serif', 'Times New Roman', serif" font-size="67.0" font-weight="bold" text-anchor="start" >(c)</text>
<text transform="translate(1814.5 1794.0) rotate(90) scale(0.980 1)" font-family="'Liberation Sans', Arial, sans-serif" font-size="79.0" font-weight="normal" text-anchor="start" >-100</text>
<text transform="translate(2111.2 1794.0) rotate(90) scale(0.980 1)" font-family="'Liberation Sans', Arial, sans-serif" font-size="79.0" font-weight="normal" text-anchor="start" >-50</text>
<text transform="translate(2408.0 1794.0) rotate(90) scale(0.980 1)" font-family="'Liberation Sans', Arial, sans-serif" font-size="79.0" font-weight="normal" text-anchor="start" >0</text>
<text transform="translate(2106.0 1434.0) rotate(90) scale(1.025 1)" font-family="'Liberation Sans', Arial, sans-serif" font-size="62.5" font-weight="normal" text-anchor="start" ><tspan font-style="italic">f</tspan><tspan font-size="42" dy="14">m</tspan><tspan dy="-14">=1 kHz</tspan></text>
<text transform="translate(2011.0 1434.0) rotate(90) scale(1.025 1)" font-family="'Liberation Sans', Arial, sans-serif" font-size="62.5" font-weight="normal" text-anchor="start" ><tspan font-style="italic">f</tspan><tspan font-size="42" dy="14">m</tspan><tspan dy="-14">=10 kHz</tspan></text>
<text transform="translate(1915.5 1434.0) rotate(90) scale(1.025 1)" font-family="'Liberation Sans', Arial, sans-serif" font-size="62.5" font-weight="normal" text-anchor="start" ><tspan font-style="italic">f</tspan><tspan font-size="42" dy="14">m</tspan><tspan dy="-14">=50 kHz</tspan></text>
</svg>
</body></html>
